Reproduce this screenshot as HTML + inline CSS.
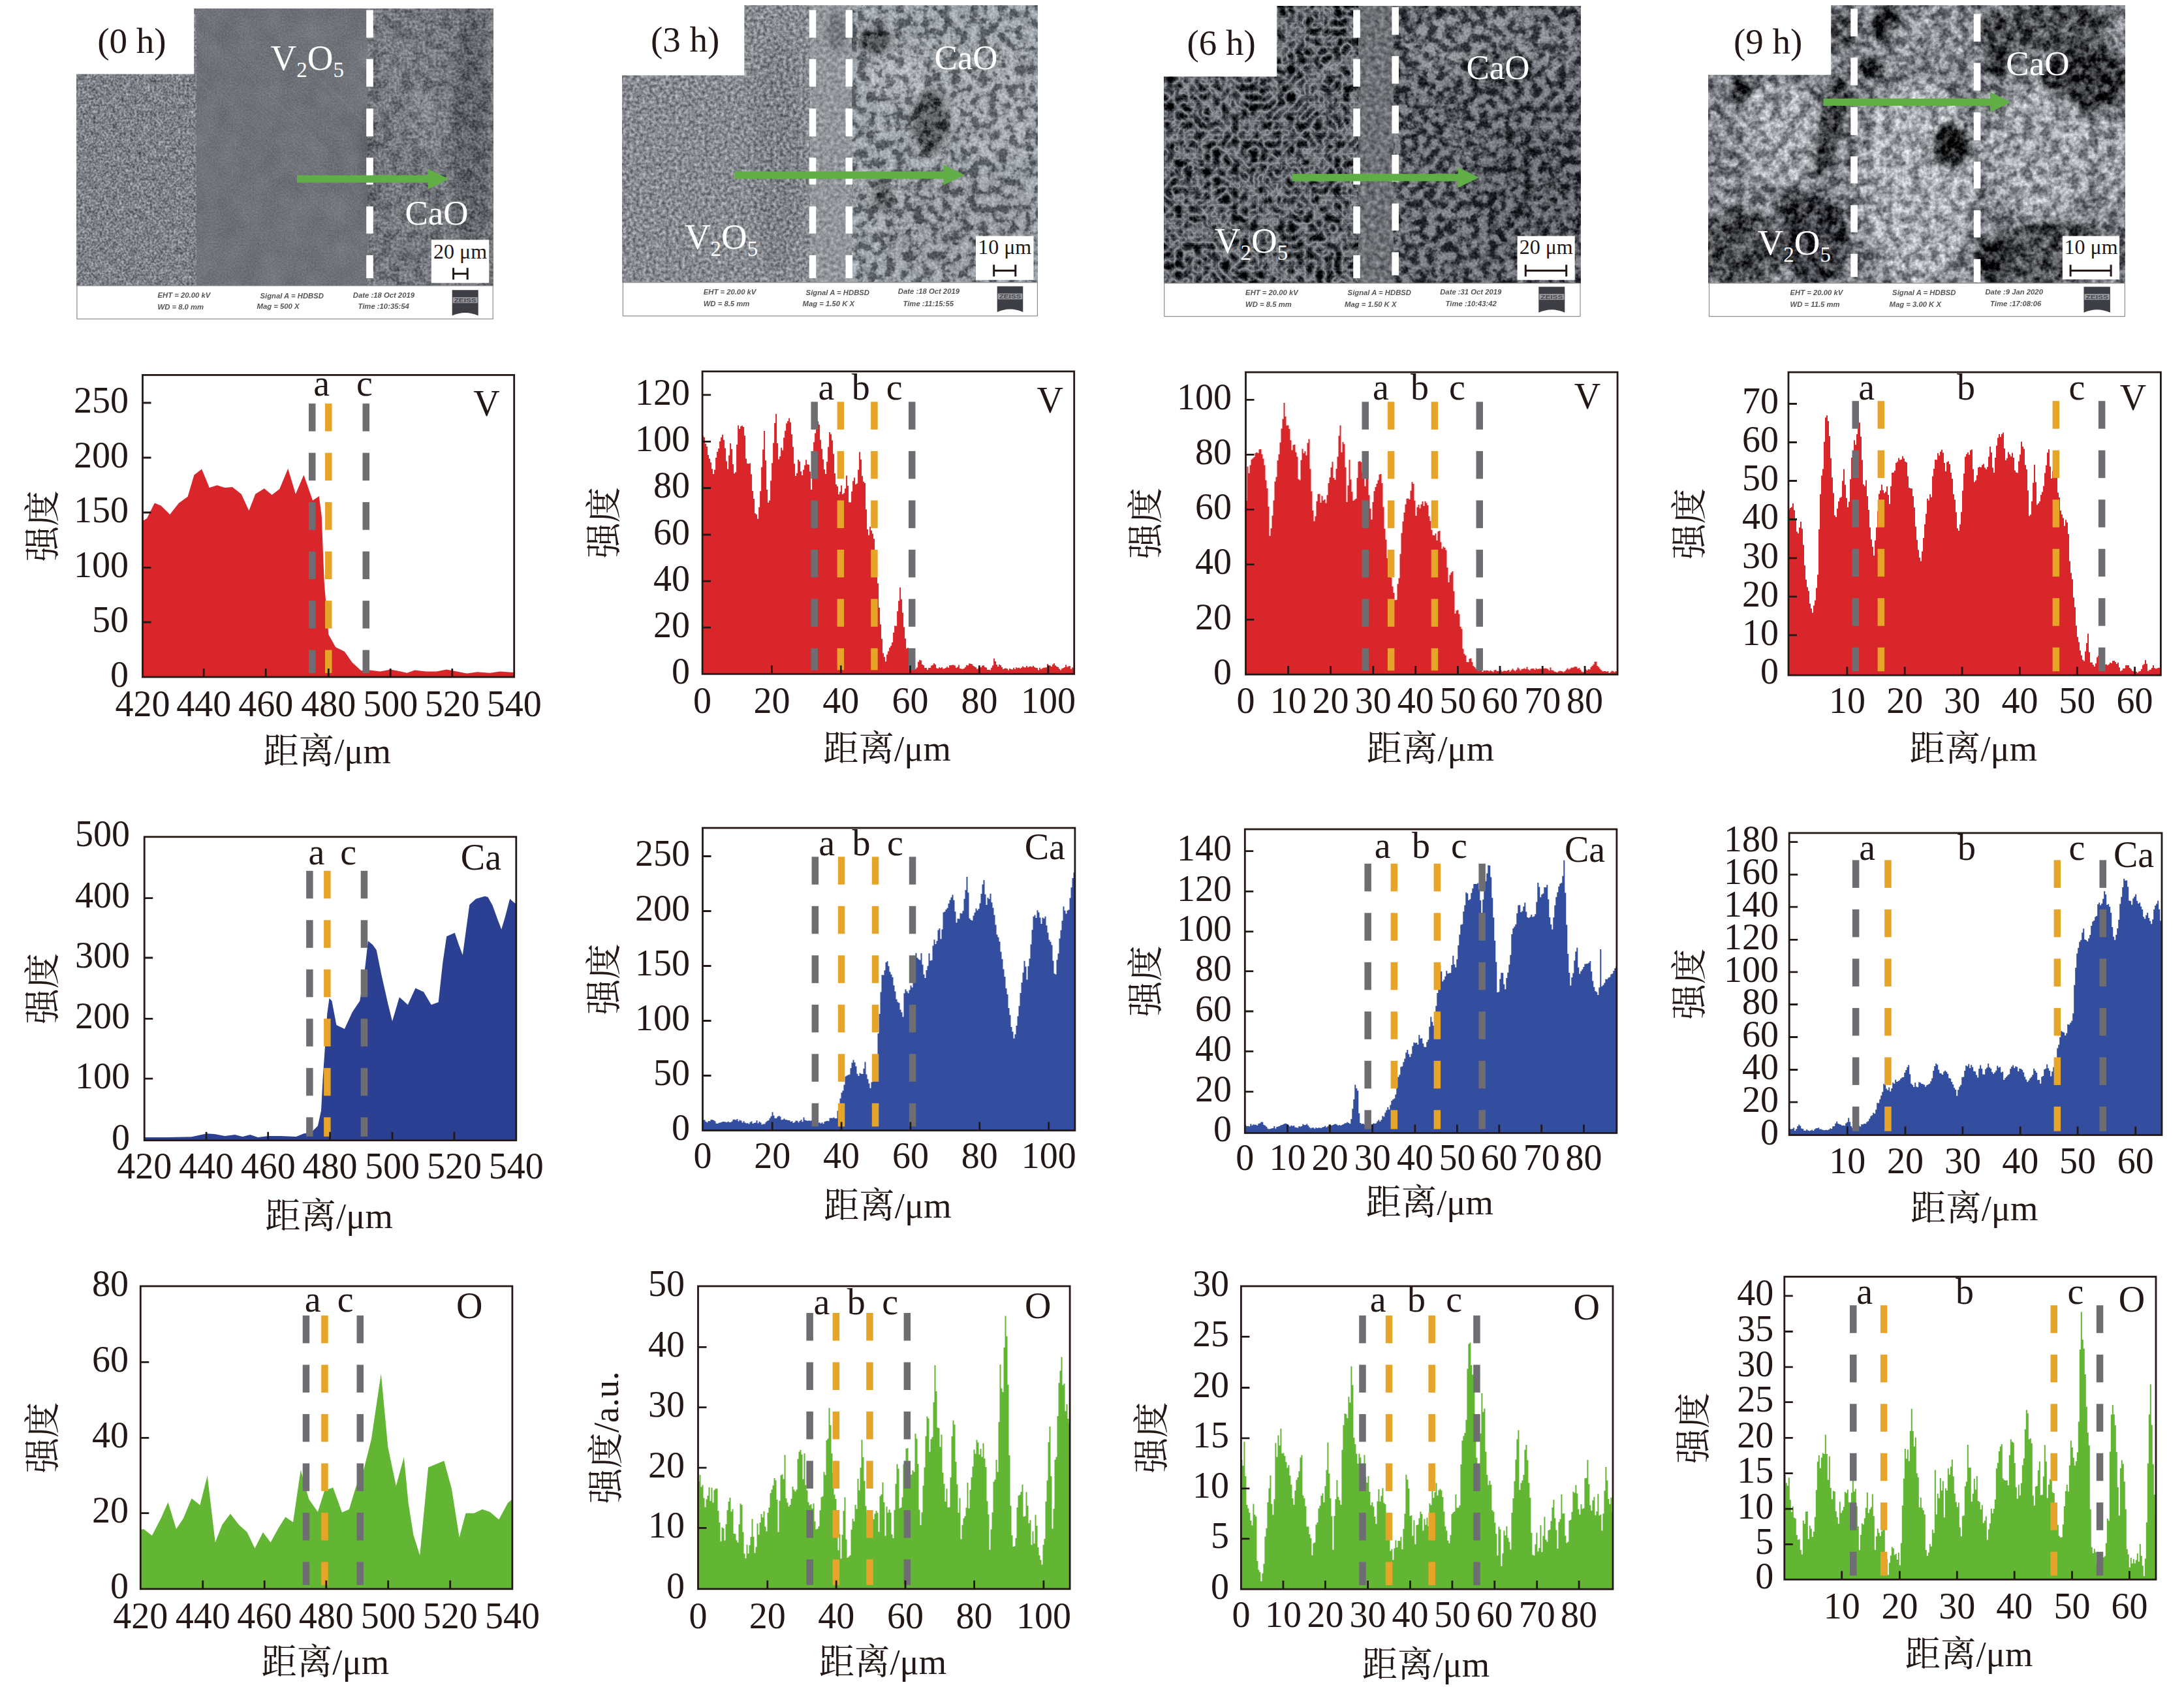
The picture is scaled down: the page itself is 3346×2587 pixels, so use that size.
<!DOCTYPE html>
<html lang="zh">
<head>
<meta charset="utf-8">
<title>V2O5-CaO diffusion couple: SEM and EDS line scans</title>
<style>
html,body{margin:0;padding:0;background:#fff;}
body{width:3346px;height:2587px;overflow:hidden;}
svg{display:block;}
svg text{font-family:"Liberation Serif","Noto Serif CJK SC",serif;fill:#231815;}
.sans{font-family:"Liberation Sans","Noto Sans CJK SC",sans-serif;}
</style>
</head>
<body>
<svg width="3346" height="2587" viewBox="0 0 3346 2587">
<rect width="3346" height="2587" fill="#fff"/>
<defs><filter id="soft" x="-5%" y="-20%" width="110%" height="140%"><feGaussianBlur stdDeviation="0.7"/></filter><filter id="b3"><feGaussianBlur stdDeviation="3"/></filter><filter id="b6"><feGaussianBlur stdDeviation="6"/></filter><filter id="b12"><feGaussianBlur stdDeviation="12"/></filter></defs>
<g id="sem1">
<defs><g id="bl1"><ellipse cx="720.8" cy="210.3" rx="27" ry="210.3" fill="#5e6267"/><ellipse cx="651.7" cy="180.2" rx="27" ry="45.1" fill="#7f8388"/><ellipse cx="699.7" cy="399.5" rx="39" ry="27" fill="#80848a"/><ellipse cx="612.6" cy="90.1" rx="60.1" ry="36" fill="#777b80"/><ellipse cx="564.6" cy="246.3" rx="15" ry="84.1" fill="#63676c"/></g><filter id="n1_0" filterUnits="userSpaceOnUse" x="109" y="5" width="200" height="441" color-interpolation-filters="sRGB"><feGaussianBlur in="SourceGraphic" stdDeviation="5" result="s"/><feTurbulence type="fractalNoise" baseFrequency="0.3" numOctaves="2" seed="10" result="n0"/><feColorMatrix in="n0" type="matrix" values="1 0 0 0 0  1 0 0 0 0  1 0 0 0 0  0 0 0 0 1" result="g0"/><feComposite in="s" in2="g0" operator="arithmetic" k1="0" k2="1" k3="0.6" k4="-0.3" result="c0"/><feTurbulence type="fractalNoise" baseFrequency="0.1" numOctaves="2" seed="21" result="n1"/><feColorMatrix in="n1" type="matrix" values="1 0 0 0 0  1 0 0 0 0  1 0 0 0 0  0 0 0 0 1" result="g1"/><feComposite in="c0" in2="g1" operator="arithmetic" k1="0" k2="1" k3="0.25" k4="-0.125" result="c1"/></filter><clipPath id="c1_0"><rect x="117" y="13" width="184" height="425"/></clipPath><filter id="n1_1" filterUnits="userSpaceOnUse" x="293" y="5" width="278" height="441" color-interpolation-filters="sRGB"><feGaussianBlur in="SourceGraphic" stdDeviation="5" result="s"/><feTurbulence type="fractalNoise" baseFrequency="0.4" numOctaves="1" seed="11" result="n0"/><feColorMatrix in="n0" type="matrix" values="1 0 0 0 0  1 0 0 0 0  1 0 0 0 0  0 0 0 0 1" result="g0"/><feComposite in="s" in2="g0" operator="arithmetic" k1="0" k2="1" k3="0.16" k4="-0.08" result="c0"/><feTurbulence type="fractalNoise" baseFrequency="0.03" numOctaves="2" seed="22" result="n1"/><feColorMatrix in="n1" type="matrix" values="1 0 0 0 0  1 0 0 0 0  1 0 0 0 0  0 0 0 0 1" result="g1"/><feComposite in="c0" in2="g1" operator="arithmetic" k1="0" k2="1" k3="0.08" k4="-0.04" result="c1"/></filter><clipPath id="c1_1"><rect x="301" y="13" width="262" height="425"/></clipPath><filter id="n1_2" filterUnits="userSpaceOnUse" x="555" y="5" width="209" height="441" color-interpolation-filters="sRGB"><feGaussianBlur in="SourceGraphic" stdDeviation="5" result="s"/><feTurbulence type="fractalNoise" baseFrequency="0.065" numOctaves="3" seed="12" result="n0"/><feColorMatrix in="n0" type="matrix" values="1 0 0 0 0  1 0 0 0 0  1 0 0 0 0  0 0 0 0 1" result="g0"/><feComponentTransfer in="g0" result="g0"><feFuncR type="table" tableValues="0 0 0 0.1 0.7 0.9 1 1 1"/><feFuncG type="table" tableValues="0 0 0 0.1 0.7 0.9 1 1 1"/><feFuncB type="table" tableValues="0 0 0 0.1 0.7 0.9 1 1 1"/></feComponentTransfer><feGaussianBlur in="g0" stdDeviation="0.7" result="g0"/><feComposite in="s" in2="g0" operator="arithmetic" k1="0" k2="1" k3="0.13" k4="-0.0746" result="c0"/><feTurbulence type="fractalNoise" baseFrequency="0.25" numOctaves="2" seed="23" result="n1"/><feColorMatrix in="n1" type="matrix" values="1 0 0 0 0  1 0 0 0 0  1 0 0 0 0  0 0 0 0 1" result="g1"/><feComposite in="c0" in2="g1" operator="arithmetic" k1="0" k2="1" k3="0.42" k4="-0.21" result="c1"/></filter><clipPath id="c1_2"><rect x="563" y="13" width="193" height="425"/></clipPath></defs>
<g clip-path="url(#c1_0)"><g filter="url(#n1_0)"><rect x="57" y="-47" width="304" height="545" fill="#7e8288"/><use href="#bl1"/></g></g>
<g clip-path="url(#c1_1)"><g filter="url(#n1_1)"><rect x="241" y="-47" width="382" height="545" fill="#6f7379"/><use href="#bl1"/></g></g>
<g clip-path="url(#c1_2)"><g filter="url(#n1_2)"><rect x="503" y="-47" width="313" height="545" fill="#72767b"/><use href="#bl1"/></g></g>
<g clip-path="url(#c1_1)" fill="none" stroke-width="1.3"><path d="M251.5 94.2l267 255.9" stroke="#565a60" opacity="0.2"/><path d="M272.3 94l289 276.9" stroke="#8a8e94" opacity="0.22"/><path d="M278.3 66.6l292.6 280.4" stroke="#565a60" opacity="0.2"/><path d="M302.8 110.1l149.2 142.9" stroke="#8a8e94" opacity="0.22"/><path d="M317.6 44.7l223.6 214.2" stroke="#565a60" opacity="0.2"/><path d="M335.9 21.3l167.1 160.1" stroke="#8a8e94" opacity="0.22"/><path d="M349.4 111.6l261.9 251" stroke="#565a60" opacity="0.2"/><path d="M364.9 99.7l153.6 147.2" stroke="#8a8e94" opacity="0.22"/><path d="M387.4 32.7l129.9 124.5" stroke="#565a60" opacity="0.2"/><path d="M407.5 40.9l166.8 159.9" stroke="#8a8e94" opacity="0.22"/><path d="M425.8 107.2l179.6 172.1" stroke="#565a60" opacity="0.2"/><path d="M442.5 73.9l246.7 236.4" stroke="#8a8e94" opacity="0.22"/><path d="M450.5 114.1l248.9 238.6" stroke="#565a60" opacity="0.2"/><path d="M476.6 109.4l181.2 173.7" stroke="#8a8e94" opacity="0.22"/><path d="M486.3 36.6l154.8 148.3" stroke="#565a60" opacity="0.2"/><path d="M499.8 50.1l233.8 224.1" stroke="#8a8e94" opacity="0.22"/><path d="M516 87.8l188 180.2" stroke="#565a60" opacity="0.2"/><path d="M536.7 101.9l212.7 203.8" stroke="#8a8e94" opacity="0.22"/><path d="M553.8 68.1l251.4 240.9" stroke="#565a60" opacity="0.2"/><path d="M567.7 117.5l133.6 128" stroke="#8a8e94" opacity="0.22"/><path d="M593 104.5l132.7 127.2" stroke="#565a60" opacity="0.2"/><path d="M610.5 56.6l229.6 220" stroke="#8a8e94" opacity="0.22"/><path d="M618.1 24.7l160.9 154.2" stroke="#565a60" opacity="0.2"/><path d="M646.5 39.7l260.2 249.3" stroke="#8a8e94" opacity="0.22"/><path d="M663.2 114.2l189.1 181.2" stroke="#565a60" opacity="0.2"/><path d="M673.3 72.5l263.6 252.6" stroke="#8a8e94" opacity="0.22"/></g>
<rect x="117.9" y="437.7" width="637.3" height="50.8" fill="#fff" stroke="#8c8c8e" stroke-width="1.2"/>
<rect x="116.3" y="12.5" width="181" height="101" fill="#fff"/>
<rect x="561.2" y="15.4" width="10.6" height="42.3" fill="#fff"/>
<rect x="561.2" y="90.4" width="10.6" height="42.3" fill="#fff"/>
<rect x="561.2" y="166.2" width="10.6" height="42.7" fill="#fff"/>
<rect x="561.2" y="241.5" width="10.6" height="41.2" fill="#fff"/>
<rect x="561.2" y="316.2" width="10.6" height="41.5" fill="#fff"/>
<rect x="561.2" y="390.8" width="10.6" height="35.4" fill="#fff"/>
<path d="M455 268.6H655.7V258.7L687.7 274.2L655.7 289.7V279.8H455Z" fill="#61ae46"/>
<text x="414.6" y="106.9" font-size="55" fill="#fff" style="fill:#fff">V<tspan font-size="33" dy="11">2</tspan><tspan dy="-11">O</tspan><tspan font-size="33" dy="11">5</tspan></text>
<text x="620.4" y="344.2" font-size="53" style="fill:#fff">CaO</text>
<rect x="660.8" y="367.3" width="88.5" height="66.2" fill="#fff"/>
<text x="705" y="396.2" font-size="32" text-anchor="middle">20 μm</text>
<path d="M694.6 410.2v18M716.2 410.2v18M693.1 419.2H717.7" stroke="#231815" stroke-width="3" fill="none"/>
<text x="149.2" y="80.8" font-size="55">(0 h)</text>
<g class="sans" font-size="11.3" font-style="italic" font-weight="bold" fill="#55565a" style="fill:#55565a" filter="url(#soft)">
<text class="sans" style="fill:#55565a" x="241.5" y="456.2">EHT = 20.00 kV</text>
<text class="sans" style="fill:#55565a" x="241.5" y="473.8">WD =  8.0 mm</text>
<text class="sans" style="fill:#55565a" x="398.5" y="456.9">Signal A = HDBSD</text>
<text class="sans" style="fill:#55565a" x="393.5" y="473.1">Mag =    500 X</text>
<text class="sans" style="fill:#55565a" x="540.8" y="455.8">Date :18 Oct 2019</text>
<text class="sans" style="fill:#55565a" x="548.5" y="473.1">Time :10:35:54</text>
</g>
<path d="M692.7 444.2H732.7V483.5Q712.7 474.5 692.7 483.5Z" fill="#3e3f45"/>
<rect x="693.7" y="455.2" width="38" height="9" fill="#9a9ba0"/>
<text class="sans" x="712.7" y="462.8" font-size="8.5" font-weight="bold" text-anchor="middle" style="fill:#46474c" textLength="34" lengthAdjust="spacingAndGlyphs">ZEISS</text>
</g>
<g id="sem2">
<defs><g id="bl2"><ellipse cx="1341.5" cy="63.1" rx="25.5" ry="19.5" fill="#45474b"/><ellipse cx="1377.5" cy="114.1" rx="45.1" ry="39" fill="#999ca1"/><ellipse cx="1425.6" cy="186.2" rx="27" ry="51.1" fill="#505256"/><ellipse cx="1350.5" cy="300.4" rx="18" ry="24" fill="#5e6064"/><ellipse cx="1521.7" cy="156.2" rx="60.1" ry="84.1" fill="#8e9297"/><ellipse cx="1470.6" cy="345.4" rx="114.1" ry="75.1" fill="#82868b"/><ellipse cx="1281.4" cy="48.1" rx="15" ry="30" fill="#74787c"/><ellipse cx="1191.3" cy="240.3" rx="36" ry="180.2" fill="#7f8388"/></g><filter id="n2_0" filterUnits="userSpaceOnUse" x="945" y="0" width="304" height="441" color-interpolation-filters="sRGB"><feGaussianBlur in="SourceGraphic" stdDeviation="5" result="s"/><feTurbulence type="fractalNoise" baseFrequency="0.2" numOctaves="2" seed="17" result="n0"/><feColorMatrix in="n0" type="matrix" values="1 0 0 0 0  1 0 0 0 0  1 0 0 0 0  0 0 0 0 1" result="g0"/><feComposite in="s" in2="g0" operator="arithmetic" k1="0" k2="1" k3="0.65" k4="-0.325" result="c0"/></filter><clipPath id="c2_0"><rect x="953" y="8" width="288" height="425"/></clipPath><filter id="n2_1" filterUnits="userSpaceOnUse" x="1233" y="0" width="80" height="441" color-interpolation-filters="sRGB"><feGaussianBlur in="SourceGraphic" stdDeviation="5" result="s"/><feTurbulence type="fractalNoise" baseFrequency="0.18" numOctaves="2" seed="18" result="n0"/><feColorMatrix in="n0" type="matrix" values="1 0 0 0 0  1 0 0 0 0  1 0 0 0 0  0 0 0 0 1" result="g0"/><feComposite in="s" in2="g0" operator="arithmetic" k1="0" k2="1" k3="0.4" k4="-0.2" result="c0"/></filter><clipPath id="c2_1"><rect x="1241" y="8" width="64" height="425"/></clipPath><filter id="n2_2" filterUnits="userSpaceOnUse" x="1297" y="0" width="301" height="441" color-interpolation-filters="sRGB"><feGaussianBlur in="SourceGraphic" stdDeviation="5" result="s"/><feTurbulence type="fractalNoise" baseFrequency="0.07" numOctaves="4" seed="19" result="n0"/><feColorMatrix in="n0" type="matrix" values="1 0 0 0 0  1 0 0 0 0  1 0 0 0 0  0 0 0 0 1" result="g0"/><feComponentTransfer in="g0" result="g0"><feFuncR type="table" tableValues="0 0 0 0.1 0.7 0.9 1 1 1"/><feFuncG type="table" tableValues="0 0 0 0.1 0.7 0.9 1 1 1"/><feFuncB type="table" tableValues="0 0 0 0.1 0.7 0.9 1 1 1"/></feComponentTransfer><feGaussianBlur in="g0" stdDeviation="0.7" result="g0"/><feComposite in="s" in2="g0" operator="arithmetic" k1="0" k2="1" k3="0.36" k4="-0.2066" result="c0"/><feTurbulence type="fractalNoise" baseFrequency="0.25" numOctaves="2" seed="30" result="n1"/><feColorMatrix in="n1" type="matrix" values="1 0 0 0 0  1 0 0 0 0  1 0 0 0 0  0 0 0 0 1" result="g1"/><feComposite in="c0" in2="g1" operator="arithmetic" k1="0" k2="1" k3="0.35" k4="-0.175" result="c1"/></filter><clipPath id="c2_2"><rect x="1305" y="8" width="285" height="425"/></clipPath></defs>
<g clip-path="url(#c2_0)"><g filter="url(#n2_0)"><rect x="893" y="-52" width="408" height="545" fill="#878b90"/><use href="#bl2"/></g></g>
<g clip-path="url(#c2_1)"><g filter="url(#n2_1)"><rect x="1181" y="-52" width="184" height="545" fill="#93969b"/><use href="#bl2"/></g></g>
<g clip-path="url(#c2_2)"><g filter="url(#n2_2)"><rect x="1245" y="-52" width="405" height="545" fill="#888d92"/><use href="#bl2"/></g></g>
<rect x="954.4" y="432.7" width="635" height="51.2" fill="#fff" stroke="#8c8c8e" stroke-width="1.2"/>
<rect x="952.8" y="7.5" width="187.5" height="107.9" fill="#fff"/>
<rect x="1239.7" y="15.4" width="10.6" height="42.3" fill="#fff"/>
<rect x="1239.7" y="90.4" width="10.6" height="42.3" fill="#fff"/>
<rect x="1239.7" y="166.2" width="10.6" height="42.7" fill="#fff"/>
<rect x="1239.7" y="241.5" width="10.6" height="41.2" fill="#fff"/>
<rect x="1239.7" y="316.2" width="10.6" height="41.5" fill="#fff"/>
<rect x="1239.7" y="390.8" width="10.6" height="35.4" fill="#fff"/>
<rect x="1295.5" y="15.4" width="10.6" height="42.3" fill="#fff"/>
<rect x="1295.5" y="90.4" width="10.6" height="42.3" fill="#fff"/>
<rect x="1295.5" y="166.2" width="10.6" height="42.7" fill="#fff"/>
<rect x="1295.5" y="241.5" width="10.6" height="41.2" fill="#fff"/>
<rect x="1295.5" y="316.2" width="10.6" height="41.5" fill="#fff"/>
<rect x="1295.5" y="390.8" width="10.6" height="35.4" fill="#fff"/>
<path d="M1125.8 262.5H1445.7V252.6L1477.7 268.1L1445.7 283.6V273.7H1125.8Z" fill="#61ae46"/>
<text x="1048.8" y="380.8" font-size="55" fill="#fff" style="fill:#fff">V<tspan font-size="33" dy="11">2</tspan><tspan dy="-11">O</tspan><tspan font-size="33" dy="11">5</tspan></text>
<text x="1431.5" y="105.8" font-size="53" style="fill:#fff">CaO</text>
<rect x="1495" y="361.5" width="88.5" height="67.3" fill="#fff"/>
<text x="1539.2" y="389.2" font-size="32" text-anchor="middle">10 μm</text>
<path d="M1522.7 405.6v18M1555.8 405.6v18M1521.2 414.6H1557.3" stroke="#231815" stroke-width="3" fill="none"/>
<text x="996.9" y="78.8" font-size="55">(3 h)</text>
<g class="sans" font-size="11.3" font-style="italic" font-weight="bold" fill="#55565a" style="fill:#55565a" filter="url(#soft)">
<text class="sans" style="fill:#55565a" x="1077.7" y="450.8">EHT = 20.00 kV</text>
<text class="sans" style="fill:#55565a" x="1077.7" y="469.2">WD =  8.5 mm</text>
<text class="sans" style="fill:#55565a" x="1234.6" y="451.5">Signal A = HDBSD</text>
<text class="sans" style="fill:#55565a" x="1229.6" y="469.2">Mag =    1.50 K X</text>
<text class="sans" style="fill:#55565a" x="1375.8" y="450">Date :18 Oct 2019</text>
<text class="sans" style="fill:#55565a" x="1383.5" y="468.5">Time :11:15:55</text>
</g>
<path d="M1527.7 438.5H1567.3V478.1Q1547.5 469.1 1527.7 478.1Z" fill="#3e3f45"/>
<rect x="1528.7" y="449.5" width="37.6" height="9" fill="#9a9ba0"/>
<text class="sans" x="1547.5" y="457.1" font-size="8.5" font-weight="bold" text-anchor="middle" style="fill:#46474c" textLength="33.6" lengthAdjust="spacingAndGlyphs">ZEISS</text>
</g>
<g id="sem3">
<defs><g id="bl3"><ellipse cx="2285.6" cy="72.1" rx="135.2" ry="57.1" fill="#676b6f"/><ellipse cx="2299.1" cy="106.6" rx="64.6" ry="28.5" fill="#4c5054"/><ellipse cx="2345.7" cy="300.4" rx="90.1" ry="105.1" fill="#4c5054"/><ellipse cx="2108.4" cy="210.3" rx="22.5" ry="210.3" fill="#6e7276"/></g><filter id="n3_0" filterUnits="userSpaceOnUse" x="1775" y="1" width="314" height="441" color-interpolation-filters="sRGB"><feGaussianBlur in="SourceGraphic" stdDeviation="5" result="s"/><feTurbulence type="turbulence" baseFrequency="0.07" numOctaves="3" seed="24" result="n0"/><feColorMatrix in="n0" type="matrix" values="-1 0 0 0 1  -1 0 0 0 1  -1 0 0 0 1  0 0 0 0 1" result="g0"/><feComposite in="s" in2="g0" operator="arithmetic" k1="0" k2="1" k3="1.05" k4="-0.7455" result="c0"/></filter><clipPath id="c3_0"><rect x="1783" y="9" width="298" height="425"/></clipPath><filter id="n3_1" filterUnits="userSpaceOnUse" x="2073" y="1" width="70" height="441" color-interpolation-filters="sRGB"><feGaussianBlur in="SourceGraphic" stdDeviation="5" result="s"/><feTurbulence type="fractalNoise" baseFrequency="0.14" numOctaves="2" seed="25" result="n0"/><feColorMatrix in="n0" type="matrix" values="1 0 0 0 0  1 0 0 0 0  1 0 0 0 0  0 0 0 0 1" result="g0"/><feComposite in="s" in2="g0" operator="arithmetic" k1="0" k2="1" k3="0.5" k4="-0.25" result="c0"/></filter><clipPath id="c3_1"><rect x="2081" y="9" width="54" height="425"/></clipPath><filter id="n3_2" filterUnits="userSpaceOnUse" x="2127" y="1" width="303" height="441" color-interpolation-filters="sRGB"><feGaussianBlur in="SourceGraphic" stdDeviation="5" result="s"/><feTurbulence type="fractalNoise" baseFrequency="0.075" numOctaves="3" seed="26" result="n0"/><feColorMatrix in="n0" type="matrix" values="1 0 0 0 0  1 0 0 0 0  1 0 0 0 0  0 0 0 0 1" result="g0"/><feComponentTransfer in="g0" result="g0"><feFuncR type="table" tableValues="0 0 0 0.15 0.6 0.95 1 1 1"/><feFuncG type="table" tableValues="0 0 0 0.15 0.6 0.95 1 1 1"/><feFuncB type="table" tableValues="0 0 0 0.15 0.6 0.95 1 1 1"/></feComponentTransfer><feGaussianBlur in="g0" stdDeviation="0.7" result="g0"/><feComposite in="s" in2="g0" operator="arithmetic" k1="0" k2="1" k3="0.42" k4="-0.2339" result="c0"/><feTurbulence type="fractalNoise" baseFrequency="0.3" numOctaves="2" seed="37" result="n1"/><feColorMatrix in="n1" type="matrix" values="1 0 0 0 0  1 0 0 0 0  1 0 0 0 0  0 0 0 0 1" result="g1"/><feComposite in="c0" in2="g1" operator="arithmetic" k1="0" k2="1" k3="0.3" k4="-0.15" result="c1"/></filter><clipPath id="c3_2"><rect x="2135" y="9" width="287" height="425"/></clipPath></defs>
<g clip-path="url(#c3_0)"><g filter="url(#n3_0)"><rect x="1723" y="-51" width="418" height="545" fill="#575b60"/><use href="#bl3"/></g></g>
<g clip-path="url(#c3_1)"><g filter="url(#n3_1)"><rect x="2021" y="-51" width="174" height="545" fill="#6c7074"/><use href="#bl3"/></g></g>
<g clip-path="url(#c3_2)"><g filter="url(#n3_2)"><rect x="2075" y="-51" width="407" height="545" fill="#565a5f"/><use href="#bl3"/></g></g>
<rect x="1783.7" y="433.8" width="637.3" height="50.8" fill="#fff" stroke="#8c8c8e" stroke-width="1.2"/>
<rect x="1782.1" y="8.6" width="174.1" height="108.7" fill="#fff"/>
<rect x="2073.2" y="15.4" width="10.6" height="42.3" fill="#fff"/>
<rect x="2073.2" y="90.4" width="10.6" height="42.3" fill="#fff"/>
<rect x="2073.2" y="166.2" width="10.6" height="42.7" fill="#fff"/>
<rect x="2073.2" y="241.5" width="10.6" height="41.2" fill="#fff"/>
<rect x="2073.2" y="316.2" width="10.6" height="41.5" fill="#fff"/>
<rect x="2073.2" y="390.8" width="10.6" height="35.4" fill="#fff"/>
<rect x="2132.4" y="10.9" width="10.6" height="42.3" fill="#fff"/>
<rect x="2132.4" y="85.9" width="10.6" height="42.3" fill="#fff"/>
<rect x="2132.4" y="161.7" width="10.6" height="42.7" fill="#fff"/>
<rect x="2132.4" y="237" width="10.6" height="41.2" fill="#fff"/>
<rect x="2132.4" y="311.7" width="10.6" height="41.5" fill="#fff"/>
<rect x="2132.4" y="386.3" width="10.6" height="35.4" fill="#fff"/>
<path d="M1979.2 266.3H2233.8V256.4L2265.8 271.9L2233.8 287.4V277.5H1979.2Z" fill="#61ae46"/>
<text x="1860.8" y="386.5" font-size="55" fill="#fff" style="fill:#fff">V<tspan font-size="33" dy="11">2</tspan><tspan dy="-11">O</tspan><tspan font-size="33" dy="11">5</tspan></text>
<text x="2246.5" y="121.2" font-size="53" style="fill:#fff">CaO</text>
<rect x="2324.6" y="361.5" width="88.1" height="67.3" fill="#fff"/>
<text x="2368.7" y="389.2" font-size="32" text-anchor="middle">20 μm</text>
<path d="M2337.3 405.6v18M2399.7 405.6v18M2335.8 414.6H2401.2" stroke="#231815" stroke-width="3" fill="none"/>
<text x="1818.5" y="83.8" font-size="55">(6 h)</text>
<g class="sans" font-size="11.3" font-style="italic" font-weight="bold" fill="#55565a" style="fill:#55565a" filter="url(#soft)">
<text class="sans" style="fill:#55565a" x="1908.1" y="451.5">EHT = 20.00 kV</text>
<text class="sans" style="fill:#55565a" x="1908.1" y="470">WD =  8.5 mm</text>
<text class="sans" style="fill:#55565a" x="2064.6" y="452.3">Signal A = HDBSD</text>
<text class="sans" style="fill:#55565a" x="2060" y="470">Mag =    1.50 K X</text>
<text class="sans" style="fill:#55565a" x="2206.2" y="450.8">Date :31 Oct 2019</text>
<text class="sans" style="fill:#55565a" x="2214.6" y="469.2">Time :10:43:42</text>
</g>
<path d="M2357.3 439.2H2397.3V478.8Q2377.3 469.8 2357.3 478.8Z" fill="#3e3f45"/>
<rect x="2358.3" y="450.2" width="38" height="9" fill="#9a9ba0"/>
<text class="sans" x="2377.3" y="457.8" font-size="8.5" font-weight="bold" text-anchor="middle" style="fill:#46474c" textLength="34" lengthAdjust="spacingAndGlyphs">ZEISS</text>
</g>
<g id="sem4">
<defs><g id="bl4"><ellipse cx="2667.1" cy="136.7" rx="13.5" ry="19.5" fill="#24262a"/><ellipse cx="2706.1" cy="154.7" rx="19.5" ry="12" fill="#2a2c30"/><ellipse cx="2748.8" cy="317.5" rx="21" ry="22.5" fill="#2e3034"/><ellipse cx="2655.1" cy="342.4" rx="39" ry="21" fill="#54565a" transform="rotate(-20 2655.1 342.4)"/><ellipse cx="2730.1" cy="204.2" rx="64.6" ry="79.6" fill="#9a9da2"/><ellipse cx="2646" cy="240.3" rx="33" ry="75.1" fill="#808388"/><ellipse cx="2805.2" cy="192.2" rx="16.5" ry="81.1" fill="#34363a" transform="rotate(15 2805.2 192.2)"/><ellipse cx="2670.1" cy="381.5" rx="64.6" ry="54.1" fill="#45474b"/><ellipse cx="2781.2" cy="366.4" rx="51.1" ry="66.1" fill="#33353a"/><ellipse cx="2820.3" cy="45.1" rx="18" ry="33" fill="#4e5054"/><ellipse cx="2892.3" cy="39" rx="24" ry="27" fill="#17191c"/><ellipse cx="2865.3" cy="105.1" rx="19.5" ry="16.5" fill="#25272b"/><ellipse cx="2937.4" cy="279.3" rx="85.6" ry="156.2" fill="#a2a5aa"/><ellipse cx="2955.4" cy="66.1" rx="63.1" ry="54.1" fill="#85888d"/><ellipse cx="2988.5" cy="222.3" rx="27" ry="30" fill="#131517"/><ellipse cx="3144.7" cy="42.1" rx="114.1" ry="34.5" fill="#46484c"/><ellipse cx="3195.7" cy="120.1" rx="64.6" ry="49.6" fill="#2d2f33"/><ellipse cx="3126.6" cy="237.3" rx="85.6" ry="100.6" fill="#999ca1"/><ellipse cx="3237.8" cy="240.3" rx="24" ry="69.1" fill="#94979c"/><ellipse cx="3150.7" cy="387.5" rx="108.1" ry="46.6" fill="#494b4f"/><ellipse cx="3054.5" cy="399.5" rx="28.5" ry="34.5" fill="#222428"/><ellipse cx="3240.8" cy="45.1" rx="15" ry="15" fill="#909398"/><ellipse cx="3060.5" cy="90.1" rx="19.5" ry="31.5" fill="#34363a"/></g><filter id="n4_0" filterUnits="userSpaceOnUse" x="2609" y="0" width="655" height="442" color-interpolation-filters="sRGB"><feGaussianBlur in="SourceGraphic" stdDeviation="5" result="s"/><feTurbulence type="fractalNoise" baseFrequency="0.07" numOctaves="4" seed="31" result="n0"/><feColorMatrix in="n0" type="matrix" values="1 0 0 0 0  1 0 0 0 0  1 0 0 0 0  0 0 0 0 1" result="g0"/><feComponentTransfer in="g0" result="g0"><feFuncR type="table" tableValues="0 0 0 0.1 0.55 0.85 1 1 1"/><feFuncG type="table" tableValues="0 0 0 0.1 0.55 0.85 1 1 1"/><feFuncB type="table" tableValues="0 0 0 0.1 0.55 0.85 1 1 1"/></feComponentTransfer><feGaussianBlur in="g0" stdDeviation="0.8" result="g0"/><feComposite in="s" in2="g0" operator="arithmetic" k1="0" k2="1" k3="0.4" k4="-0.2012" result="c0"/><feTurbulence type="fractalNoise" baseFrequency="0.2" numOctaves="3" seed="42" result="n1"/><feColorMatrix in="n1" type="matrix" values="1 0 0 0 0  1 0 0 0 0  1 0 0 0 0  0 0 0 0 1" result="g1"/><feComposite in="c0" in2="g1" operator="arithmetic" k1="0" k2="1" k3="0.5" k4="-0.25" result="c1"/></filter><clipPath id="c4_0"><rect x="2617" y="8" width="639" height="426"/></clipPath></defs>
<g clip-path="url(#c4_0)"><g filter="url(#n4_0)"><rect x="2557" y="-52" width="759" height="546" fill="#787b80"/><use href="#bl4"/></g></g>
<rect x="2618.5" y="433.8" width="636.9" height="50.8" fill="#fff" stroke="#8c8c8e" stroke-width="1.2"/>
<rect x="2616.9" y="7.5" width="188.3" height="107.2" fill="#fff"/>
<rect x="2835.3" y="13.4" width="10.6" height="42.3" fill="#fff"/>
<rect x="2835.3" y="88.4" width="10.6" height="42.3" fill="#fff"/>
<rect x="2835.3" y="164.2" width="10.6" height="42.7" fill="#fff"/>
<rect x="2835.3" y="239.5" width="10.6" height="41.2" fill="#fff"/>
<rect x="2835.3" y="314.2" width="10.6" height="41.5" fill="#fff"/>
<rect x="2835.3" y="388.8" width="10.6" height="35.4" fill="#fff"/>
<rect x="3023.8" y="21.4" width="10.6" height="42.3" fill="#fff"/>
<rect x="3023.8" y="96.4" width="10.6" height="42.3" fill="#fff"/>
<rect x="3023.8" y="172.2" width="10.6" height="42.7" fill="#fff"/>
<rect x="3023.8" y="247.5" width="10.6" height="41.2" fill="#fff"/>
<rect x="3023.8" y="322.2" width="10.6" height="41.5" fill="#fff"/>
<rect x="3023.8" y="396.8" width="10.6" height="35.4" fill="#fff"/>
<path d="M2793.7 150.9H3049V141L3081 156.5L3049 172V162.1H2793.7Z" fill="#61ae46"/>
<text x="2692.5" y="390.4" font-size="55" fill="#fff" style="fill:#fff">V<tspan font-size="33" dy="11">2</tspan><tspan dy="-11">O</tspan><tspan font-size="33" dy="11">5</tspan></text>
<text x="3073.3" y="115.4" font-size="53" style="fill:#fff">CaO</text>
<rect x="3159.8" y="361.5" width="87.3" height="66.5" fill="#fff"/>
<text x="3203.5" y="389.2" font-size="32" text-anchor="middle">10 μm</text>
<path d="M3172.1 405.6v18M3234.1 405.6v18M3170.6 414.6H3235.6" stroke="#231815" stroke-width="3" fill="none"/>
<text x="2656" y="81.9" font-size="55">(9 h)</text>
<g class="sans" font-size="11.3" font-style="italic" font-weight="bold" fill="#55565a" style="fill:#55565a" filter="url(#soft)">
<text class="sans" style="fill:#55565a" x="2742.5" y="451.5">EHT = 20.00 kV</text>
<text class="sans" style="fill:#55565a" x="2742.5" y="470">WD = 11.5 mm</text>
<text class="sans" style="fill:#55565a" x="2899.1" y="452.3">Signal A = HDBSD</text>
<text class="sans" style="fill:#55565a" x="2894.5" y="470">Mag =    3.00 K X</text>
<text class="sans" style="fill:#55565a" x="3041.4" y="450.8">Date :9 Jan 2020</text>
<text class="sans" style="fill:#55565a" x="3049.1" y="469.2">Time :17:08:06</text>
</g>
<path d="M3192.5 439.2H3232.9V478.8Q3212.7 469.8 3192.5 478.8Z" fill="#3e3f45"/>
<rect x="3193.5" y="450.2" width="38.4" height="9" fill="#9a9ba0"/>
<text class="sans" x="3212.7" y="457.8" font-size="8.5" font-weight="bold" text-anchor="middle" style="fill:#46474c" textLength="34.4" lengthAdjust="spacingAndGlyphs">ZEISS</text>
</g>
<g id="V0">
<path d="M218.5 1037 L218.5 797.9 L225.1 794 L236.8 770.5 L246.6 774.4 L260.3 788.1 L274 770.5 L287.6 760.7 L297.4 727.5 L309.1 718.5 L320.8 747.1 L332.6 743.2 L344.3 747.1 L356 745.9 L369.7 756.8 L381.4 782.2 L391.2 756.8 L404.8 748.2 L416.6 758 L428.3 749 L441.2 717.8 L452.9 756.8 L465.4 727.5 L479.1 766.6 L488.8 760 L492.7 790 L496.7 891.6 L503.3 971.7 L514.2 991.3 L527.9 997.9 L539.6 1014.7 L553.3 1027.2 L567 1026.4 L582.6 1028.4 L598.2 1025.6 L613.9 1028.4 L623.6 1030.7 L635.3 1026.4 L652.9 1028.4 L668.6 1028.4 L684.2 1025.6 L699.8 1028.4 L715.4 1031.5 L731.1 1029.2 L750.6 1030.7 L766.2 1028.4 L787.7 1029.9 L787.7 1037 Z" fill="#d9262a"/>
<rect x="473" y="618.1" width="10.5" height="42.5" fill="#6e6d72"/>
<rect x="473" y="693.6" width="10.5" height="42.5" fill="#6e6d72"/>
<rect x="473" y="769.1" width="10.5" height="42.5" fill="#6e6d72"/>
<rect x="473" y="844.6" width="10.5" height="42.5" fill="#6e6d72"/>
<rect x="473" y="920.1" width="10.5" height="42.5" fill="#6e6d72"/>
<rect x="473" y="995.6" width="10.5" height="35.3" fill="#6e6d72"/>
<rect x="498" y="618.1" width="10.5" height="42.5" fill="#e6a528"/>
<rect x="498" y="693.6" width="10.5" height="42.5" fill="#e6a528"/>
<rect x="498" y="769.1" width="10.5" height="42.5" fill="#e6a528"/>
<rect x="498" y="844.6" width="10.5" height="42.5" fill="#e6a528"/>
<rect x="498" y="920.1" width="10.5" height="42.5" fill="#e6a528"/>
<rect x="498" y="995.6" width="10.5" height="35.3" fill="#e6a528"/>
<rect x="555.5" y="618.1" width="10.5" height="42.5" fill="#6e6d72"/>
<rect x="555.5" y="693.6" width="10.5" height="42.5" fill="#6e6d72"/>
<rect x="555.5" y="769.1" width="10.5" height="42.5" fill="#6e6d72"/>
<rect x="555.5" y="844.6" width="10.5" height="42.5" fill="#6e6d72"/>
<rect x="555.5" y="920.1" width="10.5" height="42.5" fill="#6e6d72"/>
<rect x="555.5" y="995.6" width="10.5" height="35.3" fill="#6e6d72"/>
<rect x="218.5" y="574.4" width="569.2" height="462.6" fill="none" stroke="#231815" stroke-width="2.8"/>
<path d="M218.5 953h13 M218.5 869.4h13 M218.5 785h13 M218.5 701h13 M218.5 617h13 M312.2 1037v-13 M407.2 1037v-13 M503.3 1037v-13 M598.2 1037v-13 M692.8 1037v-13" stroke="#231815" stroke-width="2.8" fill="none"/>
<g font-size="56" text-anchor="end">
<text x="196.9" y="1051.6">0</text>
<text x="196.9" y="967.6">50</text>
<text x="196.9" y="884">100</text>
<text x="196.9" y="799.6">150</text>
<text x="196.9" y="715.6">200</text>
<text x="196.9" y="631.6">250</text>
</g>
<g font-size="56" text-anchor="middle">
<text x="218.5" y="1096.7">420</text>
<text x="312.2" y="1096.7">440</text>
<text x="407.2" y="1096.7">460</text>
<text x="503.3" y="1096.7">480</text>
<text x="598.2" y="1096.7">500</text>
<text x="692.8" y="1096.7">520</text>
<text x="787.7" y="1096.7">540</text>
</g>
<text x="501.1" y="1169" font-size="54.5" text-anchor="middle">距离/μm</text>
<text transform="translate(83.7 805.7) rotate(-90)" font-size="54.5" text-anchor="middle">强度</text>
<text x="492.7" y="606.4" font-size="56" text-anchor="middle">a</text>
<text x="558.4" y="606.4" font-size="56" text-anchor="middle">c</text>
<text x="745.5" y="636.9" font-size="56" text-anchor="middle">V</text>
</g>
<g id="V3">
<path d="M1076.1 1032.3 V667.4 H1078.1 V669.7 H1080.1 V679.6 H1082.1 V683.9 H1084.1 V697 H1086.1 V702.4 H1088.1 V708.2 H1090.1 V718.3 H1092.1 V725.9 H1094.1 V719.6 H1096.1 V700.9 H1098.1 V691.9 H1100.1 V686.9 H1102.1 V676.1 H1104.1 V670.1 H1106.1 V665.8 H1108.1 V673.7 H1110.1 V686.5 H1112.1 V706.5 H1114.1 V718.6 H1116.1 V697.6 H1118.1 V678.9 H1120.1 V687.8 H1122.1 V711 H1124.1 V725.3 H1126.1 V723.3 H1128.1 V681.1 H1130.1 V651.4 H1132.1 V657 H1134.1 V652.9 H1136.1 V652.1 H1138.1 V653.9 H1140.1 V667.2 H1142.1 V702.4 H1144.1 V710.1 H1146.1 V710.3 H1148.1 V709.4 H1150.1 V726.2 H1152.1 V752 H1154.1 V763.9 H1156.1 V786.2 H1158.1 V788 H1160.1 V794.8 H1162.1 V776.9 H1164.1 V752.3 H1166.1 V715.5 H1168.1 V688.5 H1170.1 V660 H1172.1 V705.3 H1174.1 V750.1 H1176.1 V770.1 H1178.1 V766.6 H1180.1 V736.3 H1182.1 V709.2 H1184.1 V678.5 H1186.1 V647.9 H1188.1 V633.9 H1190.1 V678.8 H1192.1 V703.4 H1194.1 V699.1 H1196.1 V685.7 H1198.1 V689.7 H1200.1 V670.3 H1202.1 V659.8 H1204.1 V648.6 H1206.1 V645 H1208.1 V640.6 H1210.1 V647.1 H1212.1 V665.3 H1214.1 V684.6 H1216.1 V710.2 H1218.1 V729 H1220.1 V724.8 H1222.1 V703.9 H1224.1 V706.7 H1226.1 V722 H1228.1 V728 H1230.1 V719.4 H1232.1 V712.6 H1234.1 V704.2 H1236.1 V711.2 H1238.1 V711.8 H1240.1 V722.2 H1242.1 V749.9 H1244.1 V709.6 H1246.1 V677.2 H1248.1 V663.6 H1250.1 V654.3 H1252.1 V645.2 H1254.1 V650.6 H1256.1 V673.8 H1258.1 V687.4 H1260.1 V703.4 H1262.1 V718.9 H1264.1 V725.9 H1266.1 V707.3 H1268.1 V684.4 H1270.1 V661.9 H1272.1 V665.3 H1274.1 V674.4 H1276.1 V695.2 H1278.1 V725.1 H1280.1 V742.1 H1282.1 V745.1 H1284.1 V757.2 H1286.1 V753.3 H1288.1 V743.4 H1290.1 V756.9 H1292.1 V755.3 H1294.1 V748.2 H1296.1 V728.4 H1298.1 V744 H1300.1 V769.3 H1302.1 V769.4 H1304.1 V752.8 H1306.1 V736.7 H1308.1 V731.4 H1310.1 V742.1 H1312.1 V740.6 H1314.1 V719.4 H1316.1 V692.3 H1318.1 V703.8 H1320.1 V729.2 H1322.1 V737.7 H1324.1 V739.8 H1326.1 V780.3 H1328.1 V810.8 H1330.1 V819.7 H1332.1 V806.7 H1334.1 V812.4 H1336.1 V817.5 H1338.1 V825.2 H1340.1 V857 H1342.1 V868.8 H1344.1 V893.4 H1346.1 V930.7 H1348.1 V956.2 H1350.1 V978.5 H1352.1 V1000.5 H1354.1 V1006.2 H1356.1 V1013.2 H1358.1 V1002.5 H1360.1 V997.5 H1362.1 V992 H1364.1 V989.2 H1366.1 V984 H1368.1 V968.9 H1370.1 V958.6 H1372.1 V958.7 H1374.1 V936.3 H1376.1 V920.3 H1378.1 V899.7 H1380.1 V917.7 H1382.1 V938.5 H1384.1 V960.4 H1386.1 V978.1 H1388.1 V993.3 H1390.1 V992.2 H1392.1 V1006.2 H1394.1 V1009.3 H1396.1 V1020.7 H1398.1 V1023.6 H1400.1 V1025 H1402.1 V1024.4 H1404.1 V1022.2 H1406.1 V1013.8 H1408.1 V1010.7 H1410.1 V1011.6 H1412.1 V1017.8 H1414.1 V1018.9 H1416.1 V1023.1 H1418.1 V1023 H1420.1 V1025.9 H1422.1 V1022.9 H1424.1 V1023.1 H1426.1 V1019.4 H1428.1 V1018.4 H1430.1 V1016.1 H1432.1 V1017.7 H1434.1 V1023.3 H1436.1 V1023.9 H1438.1 V1022.1 H1440.1 V1023.3 H1442.1 V1022 H1444.1 V1024.2 H1446.1 V1023.9 H1448.1 V1023.1 H1450.1 V1021.3 H1452.1 V1022.8 H1454.1 V1019 H1456.1 V1018.9 H1458.1 V1018.6 H1460.1 V1018.4 H1462.1 V1019.5 H1464.1 V1022.9 H1466.1 V1021.6 H1468.1 V1018.4 H1470.1 V1024.1 H1472.1 V1024.5 H1474.1 V1024.7 H1476.1 V1023.7 H1478.1 V1021.8 H1480.1 V1018.7 H1482.1 V1019.3 H1484.1 V1016.2 H1486.1 V1016.8 H1488.1 V1017.2 H1490.1 V1019.8 H1492.1 V1021.1 H1494.1 V1022.3 H1496.1 V1024.7 H1498.1 V1023.4 H1500.1 V1023 H1502.1 V1022.1 H1504.1 V1019.5 H1506.1 V1019.3 H1508.1 V1021.7 H1510.1 V1022.5 H1512.1 V1026.1 H1514.1 V1025.7 H1516.1 V1026.2 H1518.1 V1022.8 H1520.1 V1019.2 H1522.1 V1008.6 H1524.1 V1012.9 H1526.1 V1018.1 H1528.1 V1021 H1530.1 V1017.7 H1532.1 V1019 H1534.1 V1022 H1536.1 V1025.1 H1538.1 V1023.8 H1540.1 V1023.6 H1542.1 V1024.3 H1544.1 V1026.5 H1546.1 V1023.7 H1548.1 V1024.9 H1550.1 V1025.2 H1552.1 V1022.7 H1554.1 V1024.9 H1556.1 V1022.2 H1558.1 V1023.2 H1560.1 V1022.8 H1562.1 V1023.9 H1564.1 V1022.5 H1566.1 V1020.5 H1568.1 V1022.2 H1570.1 V1022.2 H1572.1 V1020.1 H1574.1 V1022.3 H1576.1 V1020.9 H1578.1 V1020.7 H1580.1 V1021.5 H1582.1 V1019.8 H1584.1 V1021.7 H1586.1 V1023.1 H1588.1 V1023.2 H1590.1 V1026.6 H1592.1 V1022.7 H1594.1 V1025.1 H1596.1 V1023.6 H1598.1 V1022.7 H1600.1 V1022.4 H1602.1 V1022.3 H1604.1 V1017 H1606.1 V1019.2 H1608.1 V1019.5 H1610.1 V1020.9 H1612.1 V1017.8 H1614.1 V1016 H1616.1 V1019.3 H1618.1 V1021.1 H1620.1 V1021.7 H1622.1 V1024.6 H1624.1 V1026.4 H1626.1 V1024 H1628.1 V1023.2 H1630.1 V1021.9 H1632.1 V1018.2 H1634.1 V1021.5 H1636.1 V1020.4 H1638.1 V1019.9 H1640.1 V1024.7 H1642.1 V1022.3 H1644.1 V1023.8 H1645.8 V1032.3 Z" fill="#d9262a"/>
<rect x="1242.4" y="615.4" width="10.5" height="42.5" fill="#6e6d72"/>
<rect x="1242.4" y="690.9" width="10.5" height="42.5" fill="#6e6d72"/>
<rect x="1242.4" y="766.4" width="10.5" height="42.5" fill="#6e6d72"/>
<rect x="1242.4" y="841.9" width="10.5" height="42.5" fill="#6e6d72"/>
<rect x="1242.4" y="917.4" width="10.5" height="42.5" fill="#6e6d72"/>
<rect x="1242.4" y="992.9" width="10.5" height="33.4" fill="#6e6d72"/>
<rect x="1282.6" y="615.4" width="10.5" height="42.5" fill="#e6a528"/>
<rect x="1282.6" y="690.9" width="10.5" height="42.5" fill="#e6a528"/>
<rect x="1282.6" y="766.4" width="10.5" height="42.5" fill="#e6a528"/>
<rect x="1282.6" y="841.9" width="10.5" height="42.5" fill="#e6a528"/>
<rect x="1282.6" y="917.4" width="10.5" height="42.5" fill="#e6a528"/>
<rect x="1282.6" y="992.9" width="10.5" height="33.4" fill="#e6a528"/>
<rect x="1334.2" y="615.4" width="10.5" height="42.5" fill="#e6a528"/>
<rect x="1334.2" y="690.9" width="10.5" height="42.5" fill="#e6a528"/>
<rect x="1334.2" y="766.4" width="10.5" height="42.5" fill="#e6a528"/>
<rect x="1334.2" y="841.9" width="10.5" height="42.5" fill="#e6a528"/>
<rect x="1334.2" y="917.4" width="10.5" height="42.5" fill="#e6a528"/>
<rect x="1334.2" y="992.9" width="10.5" height="33.4" fill="#e6a528"/>
<rect x="1392" y="615.4" width="10.5" height="42.5" fill="#6e6d72"/>
<rect x="1392" y="690.9" width="10.5" height="42.5" fill="#6e6d72"/>
<rect x="1392" y="766.4" width="10.5" height="42.5" fill="#6e6d72"/>
<rect x="1392" y="841.9" width="10.5" height="42.5" fill="#6e6d72"/>
<rect x="1392" y="917.4" width="10.5" height="42.5" fill="#6e6d72"/>
<rect x="1392" y="992.9" width="10.5" height="33.4" fill="#6e6d72"/>
<rect x="1076.1" y="568.9" width="569.6" height="463.4" fill="none" stroke="#231815" stroke-width="2.8"/>
<path d="M1076.1 961.2h13 M1076.1 890.1h13 M1076.1 819h13 M1076.1 747.5h13 M1076.1 676.4h13 M1076.1 604.9h13 M1182.4 1032.3v-13 M1288.3 1032.3v-13 M1394.5 1032.3v-13 M1500.4 1032.3v-13 M1605.9 1032.3v-13" stroke="#231815" stroke-width="2.8" fill="none"/>
<g font-size="56" text-anchor="end">
<text x="1056.9" y="1046.9">0</text>
<text x="1056.9" y="975.8">20</text>
<text x="1056.9" y="904.7">40</text>
<text x="1056.9" y="833.6">60</text>
<text x="1056.9" y="762.1">80</text>
<text x="1056.9" y="691">100</text>
<text x="1056.9" y="619.5">120</text>
</g>
<g font-size="56" text-anchor="middle">
<text x="1076.1" y="1091.7">0</text>
<text x="1182.4" y="1091.7">20</text>
<text x="1288.3" y="1091.7">40</text>
<text x="1394.5" y="1091.7">60</text>
<text x="1500.4" y="1091.7">80</text>
<text x="1605.9" y="1091.7">100</text>
</g>
<text x="1358.9" y="1165.1" font-size="54.5" text-anchor="middle">距离/μm</text>
<text transform="translate(943.7 800.6) rotate(-90)" font-size="54.5" text-anchor="middle">强度</text>
<text x="1266" y="612.3" font-size="56" text-anchor="middle">a</text>
<text x="1318.8" y="612.3" font-size="56" text-anchor="middle">b</text>
<text x="1370.3" y="612.3" font-size="56" text-anchor="middle">c</text>
<text x="1608.7" y="631.8" font-size="56" text-anchor="middle">V</text>
</g>
<g id="V6">
<path d="M1908.5 1033.1 V767.1 H1910.5 V714.4 H1912.5 V724.7 H1914.5 V712.5 H1916.5 V703.7 H1918.5 V701.9 H1920.5 V699.9 H1922.5 V694 H1924.5 V692.7 H1926.5 V694 H1928.5 V688.3 H1930.5 V688 H1932.5 V695.8 H1934.5 V702.5 H1936.5 V712.6 H1938.5 V735.4 H1940.5 V748.1 H1942.5 V776.1 H1944.5 V820.7 H1946.5 V809.2 H1948.5 V789.7 H1950.5 V766.5 H1952.5 V737.6 H1954.5 V730.4 H1956.5 V705.3 H1958.5 V695.8 H1960.5 V677.8 H1962.5 V656.5 H1964.5 V641.7 H1966.5 V616.9 H1968.5 V638 H1970.5 V651.7 H1972.5 V651.3 H1974.5 V657 H1976.5 V674.2 H1978.5 V689.5 H1980.5 V681.5 H1982.5 V681.1 H1984.5 V692.8 H1986.5 V699.6 H1988.5 V733.8 H1990.5 V735.6 H1992.5 V704.8 H1994.5 V687.5 H1996.5 V694.3 H1998.5 V691.2 H2000.5 V697.4 H2002.5 V678.5 H2004.5 V672.6 H2006.5 V718.2 H2008.5 V752.6 H2010.5 V782 H2012.5 V798.2 H2014.5 V790.8 H2016.5 V767.7 H2018.5 V756.8 H2020.5 V756.6 H2022.5 V770 H2024.5 V759.6 H2026.5 V766.7 H2028.5 V764.9 H2030.5 V770.6 H2032.5 V758.3 H2034.5 V739.9 H2036.5 V731.3 H2038.5 V715.9 H2040.5 V707.2 H2042.5 V732 H2044.5 V734.9 H2046.5 V718 H2048.5 V699.6 H2050.5 V667.4 H2052.5 V651.5 H2054.5 V692.8 H2056.5 V676.9 H2058.5 V680.3 H2060.5 V715.8 H2062.5 V769.1 H2064.5 V743.4 H2066.5 V704.3 H2068.5 V734.3 H2070.5 V753.3 H2072.5 V767.1 H2074.5 V765.3 H2076.5 V763.8 H2078.5 V731.9 H2080.5 V706.9 H2082.5 V706.2 H2084.5 V707.7 H2086.5 V723.8 H2088.5 V727.8 H2090.5 V744.7 H2092.5 V732.8 H2094.5 V731.6 H2096.5 V758.3 H2098.5 V779.1 H2100.5 V795.8 H2102.5 V768.9 H2104.5 V752.3 H2106.5 V746.1 H2108.5 V741.1 H2110.5 V735.6 H2112.5 V726.8 H2114.5 V725.9 H2116.5 V740 H2118.5 V776.5 H2120.5 V809.8 H2122.5 V826.6 H2124.5 V855.1 H2126.5 V859.4 H2128.5 V881 H2130.5 V884.6 H2132.5 V898.2 H2134.5 V908.1 H2136.5 V919.3 H2138.5 V918.7 H2140.5 V894.4 H2142.5 V885.5 H2144.5 V848.5 H2146.5 V816.4 H2148.5 V798.7 H2150.5 V785.1 H2152.5 V772.6 H2154.5 V763.8 H2156.5 V763.5 H2158.5 V764.9 H2160.5 V751.4 H2162.5 V738.2 H2164.5 V741.1 H2166.5 V766.7 H2168.5 V790.1 H2170.5 V776.7 H2172.5 V772.9 H2174.5 V778.6 H2176.5 V772.5 H2178.5 V768.1 H2180.5 V775.1 H2182.5 V767.7 H2184.5 V770.4 H2186.5 V774.1 H2188.5 V790.7 H2190.5 V798.1 H2192.5 V811.8 H2194.5 V819.7 H2196.5 V819.9 H2198.5 V817 H2200.5 V827.7 H2202.5 V814.1 H2204.5 V813.1 H2206.5 V830.3 H2208.5 V840.6 H2210.5 V837.2 H2212.5 V839.1 H2214.5 V842.6 H2216.5 V869.3 H2218.5 V892.1 H2220.5 V880.6 H2222.5 V876.9 H2224.5 V875.1 H2226.5 V905.6 H2228.5 V939.7 H2230.5 V935.3 H2232.5 V934.2 H2234.5 V940.5 H2236.5 V959.8 H2238.5 V963.2 H2240.5 V993.8 H2242.5 V1001.4 H2244.5 V1004 H2246.5 V1014.1 H2248.5 V1014.3 H2250.5 V1009 H2252.5 V1008.2 H2254.5 V1014.1 H2256.5 V1020 H2258.5 V1022.1 H2260.5 V1024.3 H2262.5 V1027.1 H2264.5 V1027.3 H2266.5 V1025 H2268.5 V1024.1 H2270.5 V1028.9 H2272.5 V1026.7 H2274.5 V1027.3 H2276.5 V1026.7 H2278.5 V1027 H2280.5 V1028.2 H2282.5 V1026.7 H2284.5 V1028 H2286.5 V1029.3 H2288.5 V1026.5 H2290.5 V1026 H2292.5 V1028 H2294.5 V1028.1 H2296.5 V1027.9 H2298.5 V1026.4 H2300.5 V1028.8 H2302.5 V1027.8 H2304.5 V1027.2 H2306.5 V1027.9 H2308.5 V1026.9 H2310.5 V1026 H2312.5 V1028.8 H2314.5 V1026.4 H2316.5 V1024.2 H2318.5 V1026.5 H2320.5 V1027.8 H2322.5 V1025.8 H2324.5 V1022.6 H2326.5 V1024.2 H2328.5 V1027.1 H2330.5 V1024.8 H2332.5 V1024.6 H2334.5 V1023.4 H2336.5 V1024.7 H2338.5 V1021.6 H2340.5 V1025.3 H2342.5 V1026.8 H2344.5 V1024.4 H2346.5 V1023.9 H2348.5 V1024 H2350.5 V1026 H2352.5 V1023.6 H2354.5 V1025 H2356.5 V1024.5 H2358.5 V1023.9 H2360.5 V1024.8 H2362.5 V1022.1 H2364.5 V1023.9 H2366.5 V1023.6 H2368.5 V1023.8 H2370.5 V1024.7 H2372.5 V1027.1 H2374.5 V1022.2 H2376.5 V1026.4 H2378.5 V1026.8 H2380.5 V1028.4 H2382.5 V1029 H2384.5 V1030 H2386.5 V1028.4 H2388.5 V1027.6 H2390.5 V1027.7 H2392.5 V1028.2 H2394.5 V1029.4 H2396.5 V1028.1 H2398.5 V1025.7 H2400.5 V1023.5 H2402.5 V1025.4 H2404.5 V1024.5 H2406.5 V1022.5 H2408.5 V1022.8 H2410.5 V1021.8 H2412.5 V1020.7 H2414.5 V1021.4 H2416.5 V1023.9 H2418.5 V1023 H2420.5 V1025.7 H2422.5 V1028.5 H2424.5 V1029.5 H2426.5 V1029.3 H2428.5 V1025.2 H2430.5 V1027.1 H2432.5 V1024.9 H2434.5 V1025.4 H2436.5 V1021.8 H2438.5 V1019.8 H2440.5 V1017.4 H2442.5 V1013.4 H2444.5 V1013.6 H2446.5 V1019.9 H2448.5 V1021.8 H2450.5 V1024.5 H2452.5 V1026.6 H2454.5 V1028.3 H2456.5 V1028.1 H2458.5 V1028 H2460.5 V1028.8 H2462.5 V1028 H2464.5 V1030.8 H2466.5 V1029.4 H2468.5 V1027.5 H2470.5 V1027.9 H2472.5 V1029.6 H2474.5 V1028.1 H2476.5 V1028.8 H2478.1 V1033.1 Z" fill="#d9262a"/>
<rect x="2086.5" y="615.4" width="10.5" height="42.5" fill="#6e6d72"/>
<rect x="2086.5" y="690.9" width="10.5" height="42.5" fill="#6e6d72"/>
<rect x="2086.5" y="766.4" width="10.5" height="42.5" fill="#6e6d72"/>
<rect x="2086.5" y="841.9" width="10.5" height="42.5" fill="#6e6d72"/>
<rect x="2086.5" y="917.4" width="10.5" height="42.5" fill="#6e6d72"/>
<rect x="2086.5" y="992.9" width="10.5" height="34.2" fill="#6e6d72"/>
<rect x="2125.9" y="615.4" width="10.5" height="42.5" fill="#e6a528"/>
<rect x="2125.9" y="690.9" width="10.5" height="42.5" fill="#e6a528"/>
<rect x="2125.9" y="766.4" width="10.5" height="42.5" fill="#e6a528"/>
<rect x="2125.9" y="841.9" width="10.5" height="42.5" fill="#e6a528"/>
<rect x="2125.9" y="917.4" width="10.5" height="42.5" fill="#e6a528"/>
<rect x="2125.9" y="992.9" width="10.5" height="34.2" fill="#e6a528"/>
<rect x="2192.7" y="615.4" width="10.5" height="42.5" fill="#e6a528"/>
<rect x="2192.7" y="690.9" width="10.5" height="42.5" fill="#e6a528"/>
<rect x="2192.7" y="766.4" width="10.5" height="42.5" fill="#e6a528"/>
<rect x="2192.7" y="841.9" width="10.5" height="42.5" fill="#e6a528"/>
<rect x="2192.7" y="917.4" width="10.5" height="42.5" fill="#e6a528"/>
<rect x="2192.7" y="992.9" width="10.5" height="34.2" fill="#e6a528"/>
<rect x="2261.5" y="615.4" width="10.5" height="42.5" fill="#6e6d72"/>
<rect x="2261.5" y="690.9" width="10.5" height="42.5" fill="#6e6d72"/>
<rect x="2261.5" y="766.4" width="10.5" height="42.5" fill="#6e6d72"/>
<rect x="2261.5" y="841.9" width="10.5" height="42.5" fill="#6e6d72"/>
<rect x="2261.5" y="917.4" width="10.5" height="42.5" fill="#6e6d72"/>
<rect x="2261.5" y="992.9" width="10.5" height="34.2" fill="#6e6d72"/>
<rect x="1908.5" y="570.1" width="569.6" height="463" fill="none" stroke="#231815" stroke-width="2.8"/>
<path d="M1908.5 949.1h13 M1908.5 864.7h13 M1908.5 780.3h13 M1908.5 696.3h13 M1908.5 612.3h13 M1973.7 1033.1v-13 M2038.6 1033.1v-13 M2103.8 1033.1v-13 M2168.7 1033.1v-13 M2233.5 1033.1v-13 M2298 1033.1v-13 M2363.2 1033.1v-13 M2428.1 1033.1v-13" stroke="#231815" stroke-width="2.8" fill="none"/>
<g font-size="56" text-anchor="end">
<text x="1886.9" y="1047.7">0</text>
<text x="1886.9" y="963.7">20</text>
<text x="1886.9" y="879.3">40</text>
<text x="1886.9" y="794.9">60</text>
<text x="1886.9" y="710.9">80</text>
<text x="1886.9" y="626.9">100</text>
</g>
<g font-size="56" text-anchor="middle">
<text x="1908.5" y="1091.7">0</text>
<text x="1973.7" y="1091.7">10</text>
<text x="2038.6" y="1091.7">20</text>
<text x="2103.8" y="1091.7">30</text>
<text x="2168.7" y="1091.7">40</text>
<text x="2233.5" y="1091.7">50</text>
<text x="2298" y="1091.7">60</text>
<text x="2363.2" y="1091.7">70</text>
<text x="2428.1" y="1091.7">80</text>
</g>
<text x="2191.3" y="1165.1" font-size="54.5" text-anchor="middle">距离/μm</text>
<text transform="translate(1773.7 801.6) rotate(-90)" font-size="54.5" text-anchor="middle">强度</text>
<text x="2115.5" y="612.3" font-size="56" text-anchor="middle">a</text>
<text x="2174.9" y="612.3" font-size="56" text-anchor="middle">b</text>
<text x="2232.4" y="612.3" font-size="56" text-anchor="middle">c</text>
<text x="2432" y="626" font-size="56" text-anchor="middle">V</text>
</g>
<g id="V9">
<path d="M2740 1034.2 V780.2 H2742 V777.9 H2744 V776.5 H2746 V771.1 H2748 V781.6 H2750 V795.4 H2752 V814.3 H2754 V816.9 H2756 V808.1 H2758 V799.1 H2760 V809.7 H2762 V834.6 H2764 V866 H2766 V887.8 H2768 V899.3 H2770 V905.3 H2772 V924.4 H2774 V932 H2776 V938.6 H2778 V927.4 H2780 V919.6 H2782 V900.6 H2784 V880.2 H2786 V810.8 H2788 V756.9 H2790 V728.4 H2792 V718.3 H2794 V676.8 H2796 V639.5 H2798 V636.3 H2800 V644.9 H2802 V667.9 H2804 V701.7 H2806 V731.3 H2808 V755.2 H2810 V789.2 H2812 V792 H2814 V779 H2816 V768 H2818 V762.6 H2820 V761.3 H2822 V736.6 H2824 V718.6 H2826 V742.6 H2828 V762.8 H2830 V777.1 H2832 V768.6 H2834 V734.1 H2836 V701 H2838 V695.5 H2840 V674.3 H2842 V681.2 H2844 V665.1 H2846 V655.6 H2848 V647.2 H2850 V668.7 H2852 V704.5 H2854 V742 H2856 V744.4 H2858 V735.6 H2860 V760.1 H2862 V780.9 H2864 V807.8 H2866 V826.2 H2868 V837.5 H2870 V851.1 H2872 V827.7 H2874 V807.8 H2876 V783 H2878 V756.6 H2880 V751.2 H2882 V742.3 H2884 V750.7 H2886 V755.3 H2888 V753.2 H2890 V744.9 H2892 V758.1 H2894 V772.1 H2896 V744.8 H2898 V724.1 H2900 V723.7 H2902 V721 H2904 V708.9 H2906 V707.2 H2908 V701.5 H2910 V704.5 H2912 V703.8 H2914 V698.7 H2916 V702.3 H2918 V707.1 H2920 V708.2 H2922 V729.4 H2924 V746.9 H2926 V748 H2928 V748.3 H2930 V759.9 H2932 V777.3 H2934 V806.4 H2936 V827.1 H2938 V842.3 H2940 V854.1 H2942 V859.5 H2944 V844.5 H2946 V823.9 H2948 V803.1 H2950 V786.9 H2952 V763.8 H2954 V766.5 H2956 V756.9 H2958 V761.4 H2960 V729.4 H2962 V718 H2964 V704 H2966 V704.3 H2968 V693.9 H2970 V697.8 H2972 V691.7 H2974 V688.7 H2976 V693.4 H2978 V709 H2980 V722 H2982 V707.8 H2984 V706.4 H2986 V710.9 H2988 V723.9 H2990 V733.2 H2992 V756.9 H2994 V765.2 H2996 V784.4 H2998 V809.3 H3000 V813.1 H3002 V803.3 H3004 V784.2 H3006 V751.6 H3008 V725.3 H3010 V699.4 H3012 V695.4 H3014 V692.9 H3016 V696.5 H3018 V689.4 H3020 V688.5 H3022 V718.5 H3024 V738.3 H3026 V735.8 H3028 V728.1 H3030 V716.1 H3032 V715 H3034 V715.9 H3036 V712.2 H3038 V710.6 H3040 V716.3 H3042 V718.8 H3044 V715.2 H3046 V699.6 H3048 V683.9 H3050 V693 H3052 V716.2 H3054 V724 H3056 V701.1 H3058 V682.4 H3060 V670.5 H3062 V664.9 H3064 V669.2 H3066 V664.7 H3068 V662.6 H3070 V687.1 H3072 V705.1 H3074 V701.7 H3076 V692.4 H3078 V696.1 H3080 V699.3 H3082 V693.8 H3084 V701.1 H3086 V720.5 H3088 V723.6 H3090 V724.2 H3092 V706.6 H3094 V696.2 H3096 V676.4 H3098 V684.1 H3100 V687.4 H3102 V712.2 H3104 V718.9 H3106 V751.3 H3108 V790.3 H3110 V788.3 H3112 V767.8 H3114 V739.5 H3116 V711.7 H3118 V738.4 H3120 V773.2 H3122 V771.1 H3124 V768.1 H3126 V758.1 H3128 V753.6 H3130 V744.4 H3132 V724.4 H3134 V712.7 H3136 V693.2 H3138 V688.3 H3140 V714.5 H3142 V732.9 H3144 V721.5 H3146 V701.1 H3148 V692.5 H3150 V724.2 H3152 V754.6 H3154 V761.9 H3156 V782 H3158 V788.1 H3160 V793.5 H3162 V805.5 H3164 V796.3 H3166 V800.3 H3168 V818 H3170 V859.5 H3172 V877.6 H3174 V887.2 H3176 V915.2 H3178 V930.1 H3180 V958.2 H3182 V975.6 H3184 V983.6 H3186 V996.2 H3188 V1003.7 H3190 V1010.4 H3192 V1012.4 H3194 V997.7 H3196 V984.9 H3198 V970.5 H3200 V999.1 H3202 V1014.5 H3204 V1014.8 H3206 V1018.3 H3208 V1020.9 H3210 V1016.2 H3212 V1006.7 H3214 V1004.5 H3216 V1012.6 H3218 V1013.2 H3220 V1018.4 H3222 V1018.2 H3224 V1018.1 H3226 V1017.6 H3228 V1018.7 H3230 V1017.4 H3232 V1015.1 H3234 V1015.8 H3236 V1012.2 H3238 V1012.1 H3240 V1013.7 H3242 V1016.9 H3244 V1015 H3246 V1022.3 H3248 V1027.9 H3250 V1026.8 H3252 V1023.7 H3254 V1023.7 H3256 V1018.9 H3258 V1018.9 H3260 V1018.9 H3262 V1022.9 H3264 V1024.8 H3266 V1027.5 H3268 V1028.2 H3270 V1028.8 H3272 V1028.7 H3274 V1030.2 H3276 V1028.5 H3278 V1028 H3280 V1024.7 H3282 V1018.8 H3284 V1017.2 H3286 V1011.1 H3288 V1016.7 H3290 V1027.8 H3292 V1026.2 H3294 V1025.4 H3296 V1023 H3298 V1019.1 H3300 V1023.3 H3302 V1024.3 H3304 V1023.6 H3306 V1022.7 H3308 V1022.8 H3310 V1024.1 H3310.4 V1034.2 Z" fill="#d9262a"/>
<rect x="2837.5" y="614.2" width="10.5" height="42.5" fill="#6e6d72"/>
<rect x="2837.5" y="689.7" width="10.5" height="42.5" fill="#6e6d72"/>
<rect x="2837.5" y="765.2" width="10.5" height="42.5" fill="#6e6d72"/>
<rect x="2837.5" y="840.7" width="10.5" height="42.5" fill="#6e6d72"/>
<rect x="2837.5" y="916.2" width="10.5" height="42.5" fill="#6e6d72"/>
<rect x="2837.5" y="991.7" width="10.5" height="36.5" fill="#6e6d72"/>
<rect x="2876.6" y="614.2" width="10.5" height="42.5" fill="#e6a528"/>
<rect x="2876.6" y="689.7" width="10.5" height="42.5" fill="#e6a528"/>
<rect x="2876.6" y="765.2" width="10.5" height="42.5" fill="#e6a528"/>
<rect x="2876.6" y="840.7" width="10.5" height="42.5" fill="#e6a528"/>
<rect x="2876.6" y="916.2" width="10.5" height="42.5" fill="#e6a528"/>
<rect x="2876.6" y="991.7" width="10.5" height="36.5" fill="#e6a528"/>
<rect x="3144.6" y="614.2" width="10.5" height="42.5" fill="#e6a528"/>
<rect x="3144.6" y="689.7" width="10.5" height="42.5" fill="#e6a528"/>
<rect x="3144.6" y="765.2" width="10.5" height="42.5" fill="#e6a528"/>
<rect x="3144.6" y="840.7" width="10.5" height="42.5" fill="#e6a528"/>
<rect x="3144.6" y="916.2" width="10.5" height="42.5" fill="#e6a528"/>
<rect x="3144.6" y="991.7" width="10.5" height="36.5" fill="#e6a528"/>
<rect x="3214.9" y="614.2" width="10.5" height="42.5" fill="#6e6d72"/>
<rect x="3214.9" y="689.7" width="10.5" height="42.5" fill="#6e6d72"/>
<rect x="3214.9" y="765.2" width="10.5" height="42.5" fill="#6e6d72"/>
<rect x="3214.9" y="840.7" width="10.5" height="42.5" fill="#6e6d72"/>
<rect x="3214.9" y="916.2" width="10.5" height="42.5" fill="#6e6d72"/>
<rect x="3214.9" y="991.7" width="10.5" height="36.5" fill="#6e6d72"/>
<rect x="2740" y="570.1" width="570.4" height="464.1" fill="none" stroke="#231815" stroke-width="2.8"/>
<path d="M2740 972.9h13 M2740 913.9h13 M2740 854.9h13 M2740 795.5h13 M2740 736.5h13 M2740 677.5h13 M2740 618.5h13 M2829.9 1034.2v-13 M2918.2 1034.2v-13 M3006.1 1034.2v-13 M3094.4 1034.2v-13 M3182.3 1034.2v-13 M3270.6 1034.2v-13" stroke="#231815" stroke-width="2.8" fill="none"/>
<g font-size="56" text-anchor="end">
<text x="2725.1" y="987.5">10</text>
<text x="2725.1" y="928.5">20</text>
<text x="2725.1" y="869.5">30</text>
<text x="2725.1" y="810.1">40</text>
<text x="2725.1" y="751.1">50</text>
<text x="2725.1" y="692.1">60</text>
<text x="2725.1" y="633.1">70</text>
<text x="2725.1" y="1046.5">0</text>
</g>
<g font-size="56" text-anchor="middle">
<text x="2829.9" y="1091.7">10</text>
<text x="2918.2" y="1091.7">20</text>
<text x="3006.1" y="1091.7">30</text>
<text x="3094.4" y="1091.7">40</text>
<text x="3182.3" y="1091.7">50</text>
<text x="3270.6" y="1091.7">60</text>
</g>
<text x="3023.2" y="1165.1" font-size="54.5" text-anchor="middle">距离/μm</text>
<text transform="translate(2606.8 802.2) rotate(-90)" font-size="54.5" text-anchor="middle">强度</text>
<text x="2859.6" y="612.3" font-size="56" text-anchor="middle">a</text>
<text x="3012" y="612.3" font-size="56" text-anchor="middle">b</text>
<text x="3181.9" y="612.3" font-size="56" text-anchor="middle">c</text>
<text x="3267.9" y="627.9" font-size="56" text-anchor="middle">V</text>
</g>
<g id="Ca0">
<path d="M221.2 1746.7 L221.2 1742 L254.4 1742 L293.5 1741.3 L316.9 1736.2 L328.7 1737 L344.3 1740.1 L359.9 1738.1 L371.6 1740.9 L383.3 1738.1 L395.1 1742 L410.7 1740.1 L430.2 1740.1 L453.7 1740.9 L465.4 1736.2 L477.1 1734.2 L486.9 1724.5 L492 1701 L494.7 1650.2 L497.4 1611.2 L501.3 1552.6 L504.5 1529.1 L508.4 1533 L515.4 1570.1 L527.9 1576 L539.6 1550.6 L551.3 1533 L558.4 1490 L563.9 1441.2 L570.9 1447.1 L576.7 1454.9 L584.6 1494 L594.3 1536.9 L601 1564.3 L611.9 1527.2 L624.8 1538.9 L636.5 1513.5 L649 1519.3 L660.7 1538.9 L671.7 1535 L678.3 1474.4 L684.2 1434.2 L696.7 1428.7 L702.9 1447.1 L708.8 1462.7 L719.3 1385.7 L729.1 1376.7 L742.8 1372.8 L747.5 1374 L754.5 1386.5 L762.3 1408 L768.2 1423.6 L774 1404.1 L781.1 1376.7 L787.7 1382.6 L790.8 1384.6 L790.8 1746.7 Z" fill="#2b4092"/>
<rect x="469.1" y="1333.8" width="10.5" height="42.5" fill="#6e6d72"/>
<rect x="469.1" y="1409.3" width="10.5" height="42.5" fill="#6e6d72"/>
<rect x="469.1" y="1484.8" width="10.5" height="42.5" fill="#6e6d72"/>
<rect x="469.1" y="1560.3" width="10.5" height="42.5" fill="#6e6d72"/>
<rect x="469.1" y="1635.8" width="10.5" height="42.5" fill="#6e6d72"/>
<rect x="469.1" y="1711.3" width="10.5" height="29.5" fill="#6e6d72"/>
<rect x="496.1" y="1333.8" width="10.5" height="42.5" fill="#e6a528"/>
<rect x="496.1" y="1409.3" width="10.5" height="42.5" fill="#e6a528"/>
<rect x="496.1" y="1484.8" width="10.5" height="42.5" fill="#e6a528"/>
<rect x="496.1" y="1560.3" width="10.5" height="42.5" fill="#e6a528"/>
<rect x="496.1" y="1635.8" width="10.5" height="42.5" fill="#e6a528"/>
<rect x="496.1" y="1711.3" width="10.5" height="29.5" fill="#e6a528"/>
<rect x="552.7" y="1333.8" width="10.5" height="42.5" fill="#6e6d72"/>
<rect x="552.7" y="1409.3" width="10.5" height="42.5" fill="#6e6d72"/>
<rect x="552.7" y="1484.8" width="10.5" height="42.5" fill="#6e6d72"/>
<rect x="552.7" y="1560.3" width="10.5" height="42.5" fill="#6e6d72"/>
<rect x="552.7" y="1635.8" width="10.5" height="42.5" fill="#6e6d72"/>
<rect x="552.7" y="1711.3" width="10.5" height="29.5" fill="#6e6d72"/>
<rect x="221.2" y="1281.8" width="569.6" height="464.9" fill="none" stroke="#231815" stroke-width="2.8"/>
<path d="M221.2 1652.2h13 M221.2 1560.4h13 M221.2 1467h13 M221.2 1375.6h13 M316.1 1746.7v-13 M410.7 1746.7v-13 M505.6 1746.7v-13 M601 1746.7v-13 M695.9 1746.7v-13" stroke="#231815" stroke-width="2.8" fill="none"/>
<g font-size="56" text-anchor="end">
<text x="198.9" y="1666.8">100</text>
<text x="198.9" y="1575">200</text>
<text x="198.9" y="1481.6">300</text>
<text x="198.9" y="1390.2">400</text>
<text x="198.9" y="1761.3">0</text>
<text x="198.9" y="1296.4">500</text>
</g>
<g font-size="56" text-anchor="middle">
<text x="221.2" y="1804.6">420</text>
<text x="316.1" y="1804.6">440</text>
<text x="410.7" y="1804.6">460</text>
<text x="505.6" y="1804.6">480</text>
<text x="601" y="1804.6">500</text>
<text x="695.9" y="1804.6">520</text>
<text x="790.8" y="1804.6">540</text>
</g>
<text x="504" y="1880.7" font-size="54.5" text-anchor="middle">距离/μm</text>
<text transform="translate(83.7 1514.3) rotate(-90)" font-size="54.5" text-anchor="middle">强度</text>
<text x="484.9" y="1324" font-size="56" text-anchor="middle">a</text>
<text x="533.8" y="1324" font-size="56" text-anchor="middle">c</text>
<text x="736.9" y="1331.8" font-size="56" text-anchor="middle">Ca</text>
</g>
<g id="Ca3">
<path d="M1076.5 1731.5 V1715.6 H1078.5 V1715.3 H1080.5 V1717.9 H1082.5 V1719.3 H1084.5 V1717.1 H1086.5 V1717.3 H1088.5 V1715 H1090.5 V1715 H1092.5 V1716.1 H1094.5 V1717.3 H1096.5 V1720.8 H1098.5 V1721 H1100.5 V1719.8 H1102.5 V1719.6 H1104.5 V1718.8 H1106.5 V1718 H1108.5 V1718.1 H1110.5 V1718.4 H1112.5 V1718.9 H1114.5 V1717.8 H1116.5 V1719 H1118.5 V1718.9 H1120.5 V1717.5 H1122.5 V1714.8 H1124.5 V1714.7 H1126.5 V1715.6 H1128.5 V1714.1 H1130.5 V1717.5 H1132.5 V1715.6 H1134.5 V1716.6 H1136.5 V1719.4 H1138.5 V1717.3 H1140.5 V1719.5 H1142.5 V1720.4 H1144.5 V1720.3 H1146.5 V1721.6 H1148.5 V1718.8 H1150.5 V1717.5 H1152.5 V1720.9 H1154.5 V1719.9 H1156.5 V1719.6 H1158.5 V1716 H1160.5 V1720.6 H1162.5 V1718.1 H1164.5 V1719.6 H1166.5 V1722.6 H1168.5 V1721.4 H1170.5 V1721.4 H1172.5 V1718.7 H1174.5 V1716.9 H1176.5 V1716 H1178.5 V1712.7 H1180.5 V1709.8 H1182.5 V1703.4 H1184.5 V1708.7 H1186.5 V1712.7 H1188.5 V1712.7 H1190.5 V1710.2 H1192.5 V1709 H1194.5 V1710.6 H1196.5 V1715.3 H1198.5 V1714.8 H1200.5 V1713.3 H1202.5 V1714.9 H1204.5 V1715.2 H1206.5 V1715.9 H1208.5 V1716 H1210.5 V1717.9 H1212.5 V1717.2 H1214.5 V1720 H1216.5 V1718.8 H1218.5 V1716.4 H1220.5 V1716.8 H1222.5 V1719.2 H1224.5 V1717 H1226.5 V1715.1 H1228.5 V1718.2 H1230.5 V1711.4 H1232.5 V1715.5 H1234.5 V1716.3 H1236.5 V1716.7 H1238.5 V1716.3 H1240.5 V1716.7 H1242.5 V1716.2 H1244.5 V1722.2 H1246.5 V1721.9 H1248.5 V1721.3 H1250.5 V1720.1 H1252.5 V1720 H1254.5 V1719.3 H1256.5 V1720.8 H1258.5 V1719.3 H1260.5 V1721.2 H1262.5 V1718 H1264.5 V1717.3 H1266.5 V1716.7 H1268.5 V1717.2 H1270.5 V1712.4 H1272.5 V1712.6 H1274.5 V1712.6 H1276.5 V1711.5 H1278.5 V1712.9 H1280.5 V1712.9 H1282.5 V1701.2 H1284.5 V1690 H1286.5 V1682.5 H1288.5 V1673.5 H1290.5 V1670.5 H1292.5 V1661.5 H1294.5 V1648.7 H1296.5 V1647.6 H1298.5 V1646.6 H1300.5 V1645.7 H1302.5 V1636 H1304.5 V1627.8 H1306.5 V1623.6 H1308.5 V1627.2 H1310.5 V1633.2 H1312.5 V1644.8 H1314.5 V1648.1 H1316.5 V1643.5 H1318.5 V1644.7 H1320.5 V1644.9 H1322.5 V1636.7 H1324.5 V1626.5 H1326.5 V1645.6 H1328.5 V1652.8 H1330.5 V1659.5 H1332.5 V1666.8 H1334.5 V1657.4 H1336.5 V1650.7 H1338.5 V1653.6 H1340.5 V1650.5 H1342.5 V1630.7 H1344.5 V1582.9 H1346.5 V1553 H1348.5 V1519.6 H1350.5 V1493.2 H1352.5 V1493.5 H1354.5 V1486.2 H1356.5 V1473.9 H1358.5 V1472.3 H1360.5 V1479.7 H1362.5 V1488.4 H1364.5 V1492.6 H1366.5 V1496.8 H1368.5 V1509.2 H1370.5 V1518.5 H1372.5 V1530.4 H1374.5 V1534.8 H1376.5 V1536.2 H1378.5 V1546.4 H1380.5 V1550.5 H1382.5 V1557.5 H1384.5 V1521.2 H1386.5 V1515.2 H1388.5 V1518.4 H1390.5 V1521.3 H1392.5 V1516.4 H1394.5 V1509.6 H1396.5 V1512.4 H1398.5 V1489.2 H1400.5 V1471.7 H1402.5 V1459.8 H1404.5 V1467 H1406.5 V1469.3 H1408.5 V1470.4 H1410.5 V1459.9 H1412.5 V1477.4 H1414.5 V1492.4 H1416.5 V1498.1 H1418.5 V1485.9 H1420.5 V1479.5 H1422.5 V1460.2 H1424.5 V1471.6 H1426.5 V1470.7 H1428.5 V1448.5 H1430.5 V1439.3 H1432.5 V1445.9 H1434.5 V1441.2 H1436.5 V1424.6 H1438.5 V1421.9 H1440.5 V1438.3 H1442.5 V1423.5 H1444.5 V1397.5 H1446.5 V1396.3 H1448.5 V1392.9 H1450.5 V1390.7 H1452.5 V1384.1 H1454.5 V1378.5 H1456.5 V1374.4 H1458.5 V1370.4 H1460.5 V1378.7 H1462.5 V1396.2 H1464.5 V1413.2 H1466.5 V1406.9 H1468.5 V1407.4 H1470.5 V1398.8 H1472.5 V1399.3 H1474.5 V1395.3 H1476.5 V1376.8 H1478.5 V1363.2 H1480.5 V1343 H1482.5 V1367.3 H1484.5 V1406.7 H1486.5 V1409.1 H1488.5 V1409.9 H1490.5 V1402.4 H1492.5 V1397.7 H1494.5 V1391.5 H1496.5 V1394.6 H1498.5 V1391.9 H1500.5 V1383.4 H1502.5 V1368.9 H1504.5 V1354.8 H1506.5 V1347.9 H1508.5 V1369.7 H1510.5 V1386.1 H1512.5 V1375 H1514.5 V1376.9 H1516.5 V1368.8 H1518.5 V1382.2 H1520.5 V1390.5 H1522.5 V1401.6 H1524.5 V1416.4 H1526.5 V1431.4 H1528.5 V1435.6 H1530.5 V1442.3 H1532.5 V1457.8 H1534.5 V1469 H1536.5 V1484.6 H1538.5 V1495.9 H1540.5 V1513.7 H1542.5 V1523.1 H1544.5 V1543.9 H1546.5 V1554.7 H1548.5 V1573 H1550.5 V1580.3 H1552.5 V1590.4 H1554.5 V1584.2 H1556.5 V1571 H1558.5 V1556.6 H1560.5 V1540.8 H1562.5 V1521 H1564.5 V1505 H1566.5 V1489.7 H1568.5 V1471.8 H1570.5 V1480.6 H1572.5 V1500.5 H1574.5 V1479.7 H1576.5 V1468.3 H1578.5 V1446.5 H1580.5 V1424.2 H1582.5 V1403.8 H1584.5 V1401.6 H1586.5 V1406.1 H1588.5 V1394.2 H1590.5 V1397.5 H1592.5 V1405.5 H1594.5 V1414.9 H1596.5 V1405.5 H1598.5 V1406.9 H1600.5 V1403.7 H1602.5 V1417.6 H1604.5 V1428.4 H1606.5 V1439.6 H1608.5 V1442.5 H1610.5 V1447.5 H1612.5 V1471.6 H1614.5 V1491.2 H1616.5 V1492.5 H1618.5 V1470.3 H1620.5 V1460.5 H1622.5 V1437.5 H1624.5 V1424.7 H1626.5 V1410.3 H1628.5 V1388.5 H1630.5 V1394.7 H1632.5 V1399.5 H1634.5 V1394.4 H1636.5 V1393.6 H1638.5 V1375.6 H1640.5 V1359.2 H1642.5 V1345.1 H1644.5 V1336.5 H1646.5 V1336.8 H1646.9 V1731.5 Z" fill="#334d9f"/>
<rect x="1243.6" y="1312.3" width="10.5" height="42.5" fill="#6e6d72"/>
<rect x="1243.6" y="1387.8" width="10.5" height="42.5" fill="#6e6d72"/>
<rect x="1243.6" y="1463.3" width="10.5" height="42.5" fill="#6e6d72"/>
<rect x="1243.6" y="1538.8" width="10.5" height="42.5" fill="#6e6d72"/>
<rect x="1243.6" y="1614.3" width="10.5" height="42.5" fill="#6e6d72"/>
<rect x="1243.6" y="1689.8" width="10.5" height="35.7" fill="#6e6d72"/>
<rect x="1283.8" y="1312.3" width="10.5" height="42.5" fill="#e6a528"/>
<rect x="1283.8" y="1387.8" width="10.5" height="42.5" fill="#e6a528"/>
<rect x="1283.8" y="1463.3" width="10.5" height="42.5" fill="#e6a528"/>
<rect x="1283.8" y="1538.8" width="10.5" height="42.5" fill="#e6a528"/>
<rect x="1283.8" y="1614.3" width="10.5" height="42.5" fill="#e6a528"/>
<rect x="1283.8" y="1689.8" width="10.5" height="35.7" fill="#e6a528"/>
<rect x="1335.8" y="1312.3" width="10.5" height="42.5" fill="#e6a528"/>
<rect x="1335.8" y="1387.8" width="10.5" height="42.5" fill="#e6a528"/>
<rect x="1335.8" y="1463.3" width="10.5" height="42.5" fill="#e6a528"/>
<rect x="1335.8" y="1538.8" width="10.5" height="42.5" fill="#e6a528"/>
<rect x="1335.8" y="1614.3" width="10.5" height="42.5" fill="#e6a528"/>
<rect x="1335.8" y="1689.8" width="10.5" height="35.7" fill="#e6a528"/>
<rect x="1392.8" y="1312.3" width="10.5" height="42.5" fill="#6e6d72"/>
<rect x="1392.8" y="1387.8" width="10.5" height="42.5" fill="#6e6d72"/>
<rect x="1392.8" y="1463.3" width="10.5" height="42.5" fill="#6e6d72"/>
<rect x="1392.8" y="1538.8" width="10.5" height="42.5" fill="#6e6d72"/>
<rect x="1392.8" y="1614.3" width="10.5" height="42.5" fill="#6e6d72"/>
<rect x="1392.8" y="1689.8" width="10.5" height="35.7" fill="#6e6d72"/>
<rect x="1076.5" y="1268.1" width="570.4" height="463.4" fill="none" stroke="#231815" stroke-width="2.8"/>
<path d="M1076.5 1647.5h13 M1076.5 1563.5h13 M1076.5 1479.5h13 M1076.5 1395.5h13 M1076.5 1311.5h13 M1183.2 1731.5v-13 M1289.1 1731.5v-13 M1394.9 1731.5v-13 M1500.8 1731.5v-13 M1606.7 1731.5v-13" stroke="#231815" stroke-width="2.8" fill="none"/>
<g font-size="56" text-anchor="end">
<text x="1056.9" y="1746.1">0</text>
<text x="1056.9" y="1662.1">50</text>
<text x="1056.9" y="1578.1">100</text>
<text x="1056.9" y="1494.1">150</text>
<text x="1056.9" y="1410.1">200</text>
<text x="1056.9" y="1326.1">250</text>
</g>
<g font-size="56" text-anchor="middle">
<text x="1076.5" y="1788.9">0</text>
<text x="1183.2" y="1788.9">20</text>
<text x="1289.1" y="1788.9">40</text>
<text x="1394.9" y="1788.9">60</text>
<text x="1500.8" y="1788.9">80</text>
<text x="1606.7" y="1788.9">100</text>
</g>
<text x="1359.7" y="1865.1" font-size="54.5" text-anchor="middle">距离/μm</text>
<text transform="translate(943.7 1499.8) rotate(-90)" font-size="54.5" text-anchor="middle">强度</text>
<text x="1266.8" y="1310.3" font-size="56" text-anchor="middle">a</text>
<text x="1319.5" y="1310.3" font-size="56" text-anchor="middle">b</text>
<text x="1371.5" y="1310.3" font-size="56" text-anchor="middle">c</text>
<text x="1600.8" y="1316.2" font-size="56" text-anchor="middle">Ca</text>
</g>
<g id="Ca6">
<path d="M1907.3 1735.4 V1723.1 H1909.3 V1724.9 H1911.3 V1724.7 H1913.3 V1725.2 H1915.3 V1721.6 H1917.3 V1723.8 H1919.3 V1722.2 H1921.3 V1722.7 H1923.3 V1722.7 H1925.3 V1723.7 H1927.3 V1721.1 H1929.3 V1720.6 H1931.3 V1718.4 H1933.3 V1718.7 H1935.3 V1722.7 H1937.3 V1724.1 H1939.3 V1725.7 H1941.3 V1728.4 H1943.3 V1729.5 H1945.3 V1729 H1947.3 V1728.2 H1949.3 V1728.1 H1951.3 V1725 H1953.3 V1728.5 H1955.3 V1726.1 H1957.3 V1725.5 H1959.3 V1724.7 H1961.3 V1723.4 H1963.3 V1723.1 H1965.3 V1722.1 H1967.3 V1720.9 H1969.3 V1720.8 H1971.3 V1721.9 H1973.3 V1723.6 H1975.3 V1725.4 H1977.3 V1723.8 H1979.3 V1724.7 H1981.3 V1724.1 H1983.3 V1726.5 H1985.3 V1726.9 H1987.3 V1727.4 H1989.3 V1725 H1991.3 V1725.7 H1993.3 V1725.1 H1995.3 V1721.7 H1997.3 V1723.2 H1999.3 V1723.1 H2001.3 V1721.6 H2003.3 V1724 H2005.3 V1726.6 H2007.3 V1728.2 H2009.3 V1727.3 H2011.3 V1727.3 H2013.3 V1728.8 H2015.3 V1727 H2017.3 V1728 H2019.3 V1727.3 H2021.3 V1727.5 H2023.3 V1727.8 H2025.3 V1726.6 H2027.3 V1726 H2029.3 V1724.5 H2031.3 V1726.8 H2033.3 V1725 H2035.3 V1722.8 H2037.3 V1722.7 H2039.3 V1724.1 H2041.3 V1723 H2043.3 V1722.1 H2045.3 V1721.4 H2047.3 V1722.5 H2049.3 V1724 H2051.3 V1723.1 H2053.3 V1723.9 H2055.3 V1722.7 H2057.3 V1721.9 H2059.3 V1720.4 H2061.3 V1720.2 H2063.3 V1718.7 H2065.3 V1719.9 H2067.3 V1721.3 H2069.3 V1714.1 H2071.3 V1698.2 H2073.3 V1683.8 H2075.3 V1661.5 H2077.3 V1667.1 H2079.3 V1670.4 H2081.3 V1705.3 H2083.3 V1720.1 H2085.3 V1721.4 H2087.3 V1720.9 H2089.3 V1722.2 H2091.3 V1723.8 H2093.3 V1721.4 H2095.3 V1721.9 H2097.3 V1723.1 H2099.3 V1722.5 H2101.3 V1722 H2103.3 V1720.6 H2105.3 V1721.1 H2107.3 V1720.4 H2109.3 V1717.6 H2111.3 V1715.2 H2113.3 V1717.7 H2115.3 V1715.3 H2117.3 V1709.2 H2119.3 V1710.5 H2121.3 V1704.2 H2123.3 V1700.4 H2125.3 V1695.8 H2127.3 V1699.4 H2129.3 V1692.4 H2131.3 V1686 H2133.3 V1684.1 H2135.3 V1682.6 H2137.3 V1676.4 H2139.3 V1665.3 H2141.3 V1649.6 H2143.3 V1646.2 H2145.3 V1634.2 H2147.3 V1633.3 H2149.3 V1626.7 H2151.3 V1621.4 H2153.3 V1612.3 H2155.3 V1608.1 H2157.3 V1614.4 H2159.3 V1619.1 H2161.3 V1614.3 H2163.3 V1602.2 H2165.3 V1596.8 H2167.3 V1597.6 H2169.3 V1596.9 H2171.3 V1600 H2173.3 V1585.2 H2175.3 V1590.8 H2177.3 V1590.2 H2179.3 V1598.3 H2181.3 V1603.4 H2183.3 V1603.7 H2185.3 V1595.9 H2187.3 V1592.4 H2189.3 V1572.6 H2191.3 V1557.5 H2193.3 V1565.2 H2195.3 V1570.9 H2197.3 V1558.9 H2199.3 V1540.8 H2201.3 V1521.1 H2203.3 V1497.3 H2205.3 V1478.1 H2207.3 V1487.9 H2209.3 V1503.3 H2211.3 V1500.5 H2213.3 V1495.4 H2215.3 V1486.9 H2217.3 V1491.3 H2219.3 V1490.4 H2221.3 V1490.3 H2223.3 V1478 H2225.3 V1463.7 H2227.3 V1477.2 H2229.3 V1481.7 H2231.3 V1469.2 H2233.3 V1448.1 H2235.3 V1431.5 H2237.3 V1416.4 H2239.3 V1415.5 H2241.3 V1396.3 H2243.3 V1386.6 H2245.3 V1367.1 H2247.3 V1368.5 H2249.3 V1378.7 H2251.3 V1377.2 H2253.3 V1367.7 H2255.3 V1360.7 H2257.3 V1354.1 H2259.3 V1354.1 H2261.3 V1354 H2263.3 V1352.5 H2265.3 V1362.3 H2267.3 V1378.9 H2269.3 V1398.1 H2271.3 V1377.8 H2273.3 V1360.7 H2275.3 V1349.8 H2277.3 V1337.8 H2279.3 V1325.2 H2281.3 V1325.8 H2283.3 V1343.5 H2285.3 V1375.2 H2287.3 V1405.2 H2289.3 V1440.7 H2291.3 V1473.5 H2293.3 V1520.1 H2295.3 V1519.2 H2297.3 V1499.4 H2299.3 V1490.1 H2301.3 V1490.3 H2303.3 V1507.5 H2305.3 V1515.2 H2307.3 V1498.1 H2309.3 V1489.8 H2311.3 V1477.6 H2313.3 V1462.8 H2315.3 V1430.9 H2317.3 V1422 H2319.3 V1419.2 H2321.3 V1415.7 H2323.3 V1399.1 H2325.3 V1386.5 H2327.3 V1386.2 H2329.3 V1397.3 H2331.3 V1395.4 H2333.3 V1388.4 H2335.3 V1382.4 H2337.3 V1396.4 H2339.3 V1405 H2341.3 V1406.1 H2343.3 V1404.2 H2345.3 V1401.1 H2347.3 V1404.4 H2349.3 V1403.4 H2351.3 V1400.3 H2353.3 V1381.6 H2355.3 V1351.9 H2357.3 V1358.5 H2359.3 V1374.3 H2361.3 V1369.9 H2363.3 V1368.5 H2365.3 V1359.1 H2367.3 V1359.2 H2369.3 V1355.3 H2371.3 V1377.5 H2373.3 V1404.9 H2375.3 V1416 H2377.3 V1423.4 H2379.3 V1405.3 H2381.3 V1386.8 H2383.3 V1374.1 H2385.3 V1366.8 H2387.3 V1357.7 H2389.3 V1353.4 H2391.3 V1352.2 H2393.3 V1341.8 H2395.3 V1317.8 H2397.3 V1367.4 H2399.3 V1416.4 H2401.3 V1461 H2403.3 V1490.1 H2405.3 V1509.6 H2407.3 V1496.9 H2409.3 V1490.4 H2411.3 V1471.3 H2413.3 V1457.4 H2415.3 V1451.4 H2417.3 V1481.8 H2419.3 V1491.4 H2421.3 V1487.6 H2423.3 V1484.8 H2425.3 V1480.9 H2427.3 V1476.4 H2429.3 V1476.3 H2431.3 V1475.9 H2433.3 V1474.6 H2435.3 V1471.9 H2437.3 V1488.1 H2439.3 V1502.5 H2441.3 V1511.7 H2443.3 V1518 H2445.3 V1519.5 H2447.3 V1524.1 H2449.3 V1512.4 H2451.3 V1454.1 H2453.3 V1510.8 H2455.3 V1508.7 H2457.3 V1505.5 H2459.3 V1499.8 H2461.3 V1499.8 H2463.3 V1497.4 H2465.3 V1496.4 H2467.3 V1492.3 H2469.3 V1491.2 H2471.3 V1487 H2473.3 V1482.9 H2475.3 V1480.6 H2476.9 V1735.4 Z" fill="#334d9f"/>
<rect x="2090.4" y="1322.8" width="10.5" height="42.5" fill="#6e6d72"/>
<rect x="2090.4" y="1398.3" width="10.5" height="42.5" fill="#6e6d72"/>
<rect x="2090.4" y="1473.8" width="10.5" height="42.5" fill="#6e6d72"/>
<rect x="2090.4" y="1549.3" width="10.5" height="42.5" fill="#6e6d72"/>
<rect x="2090.4" y="1624.8" width="10.5" height="42.5" fill="#6e6d72"/>
<rect x="2090.4" y="1700.3" width="10.5" height="29.1" fill="#6e6d72"/>
<rect x="2130.6" y="1322.8" width="10.5" height="42.5" fill="#e6a528"/>
<rect x="2130.6" y="1398.3" width="10.5" height="42.5" fill="#e6a528"/>
<rect x="2130.6" y="1473.8" width="10.5" height="42.5" fill="#e6a528"/>
<rect x="2130.6" y="1549.3" width="10.5" height="42.5" fill="#e6a528"/>
<rect x="2130.6" y="1624.8" width="10.5" height="42.5" fill="#e6a528"/>
<rect x="2130.6" y="1700.3" width="10.5" height="29.1" fill="#e6a528"/>
<rect x="2196.6" y="1322.8" width="10.5" height="42.5" fill="#e6a528"/>
<rect x="2196.6" y="1398.3" width="10.5" height="42.5" fill="#e6a528"/>
<rect x="2196.6" y="1473.8" width="10.5" height="42.5" fill="#e6a528"/>
<rect x="2196.6" y="1549.3" width="10.5" height="42.5" fill="#e6a528"/>
<rect x="2196.6" y="1624.8" width="10.5" height="42.5" fill="#e6a528"/>
<rect x="2196.6" y="1700.3" width="10.5" height="29.1" fill="#e6a528"/>
<rect x="2265.4" y="1322.8" width="10.5" height="42.5" fill="#6e6d72"/>
<rect x="2265.4" y="1398.3" width="10.5" height="42.5" fill="#6e6d72"/>
<rect x="2265.4" y="1473.8" width="10.5" height="42.5" fill="#6e6d72"/>
<rect x="2265.4" y="1549.3" width="10.5" height="42.5" fill="#6e6d72"/>
<rect x="2265.4" y="1624.8" width="10.5" height="42.5" fill="#6e6d72"/>
<rect x="2265.4" y="1700.3" width="10.5" height="29.1" fill="#6e6d72"/>
<rect x="1907.3" y="1270.1" width="569.6" height="465.3" fill="none" stroke="#231815" stroke-width="2.8"/>
<path d="M1907.3 1672.1h13 M1907.3 1610.4h13 M1907.3 1549h13 M1907.3 1487.7h13 M1907.3 1426.8h13 M1907.3 1365.4h13 M1907.3 1303.7h13 M1972.5 1735.4v-13 M2037.4 1735.4v-13 M2102.7 1735.4v-13 M2167.9 1735.4v-13 M2232.4 1735.4v-13 M2296.8 1735.4v-13 M2361.7 1735.4v-13 M2426.5 1735.4v-13" stroke="#231815" stroke-width="2.8" fill="none"/>
<g font-size="56" text-anchor="end">
<text x="1886.9" y="1686.7">20</text>
<text x="1886.9" y="1625">40</text>
<text x="1886.9" y="1563.6">60</text>
<text x="1886.9" y="1502.3">80</text>
<text x="1886.9" y="1441.4">100</text>
<text x="1886.9" y="1380">120</text>
<text x="1886.9" y="1318.3">140</text>
<text x="1886.9" y="1747.7">0</text>
</g>
<g font-size="56" text-anchor="middle">
<text x="1907.3" y="1791.7">0</text>
<text x="1972.5" y="1791.7">10</text>
<text x="2037.4" y="1791.7">20</text>
<text x="2102.7" y="1791.7">30</text>
<text x="2167.9" y="1791.7">40</text>
<text x="2232.4" y="1791.7">50</text>
<text x="2296.8" y="1791.7">60</text>
<text x="2361.7" y="1791.7">70</text>
<text x="2426.5" y="1791.7">80</text>
</g>
<text x="2190.1" y="1860" font-size="54.5" text-anchor="middle">距离/μm</text>
<text transform="translate(1773.7 1502.7) rotate(-90)" font-size="54.5" text-anchor="middle">强度</text>
<text x="2118.3" y="1314.2" font-size="56" text-anchor="middle">a</text>
<text x="2176.9" y="1314.2" font-size="56" text-anchor="middle">b</text>
<text x="2235.5" y="1314.2" font-size="56" text-anchor="middle">c</text>
<text x="2428.1" y="1320.1" font-size="56" text-anchor="middle">Ca</text>
</g>
<g id="Ca9">
<path d="M2741.2 1738.5 V1729 H2743.2 V1729.6 H2745.2 V1729 H2747.2 V1727.2 H2749.2 V1732 H2751.2 V1729.2 H2753.2 V1724.9 H2755.2 V1722.4 H2757.2 V1724.6 H2759.2 V1728.5 H2761.2 V1729.1 H2763.2 V1731.7 H2765.2 V1731.8 H2767.2 V1730.1 H2769.2 V1731.4 H2771.2 V1732.2 H2773.2 V1731.4 H2775.2 V1730.6 H2777.2 V1731.9 H2779.2 V1729.8 H2781.2 V1728.2 H2783.2 V1728 H2785.2 V1727.3 H2787.2 V1729.4 H2789.2 V1729.5 H2791.2 V1730.5 H2793.2 V1731.1 H2795.2 V1731.1 H2797.2 V1730.5 H2799.2 V1730.9 H2801.2 V1729.9 H2803.2 V1728.3 H2805.2 V1728.9 H2807.2 V1725.3 H2809.2 V1725.1 H2811.2 V1720.8 H2813.2 V1717.7 H2815.2 V1721 H2817.2 V1722 H2819.2 V1722.4 H2821.2 V1724.1 H2823.2 V1723.8 H2825.2 V1724.2 H2827.2 V1720.6 H2829.2 V1718.7 H2831.2 V1712.3 H2833.2 V1718.6 H2835.2 V1724.9 H2837.2 V1727.7 H2839.2 V1727.4 H2841.2 V1726.8 H2843.2 V1726.3 H2845.2 V1726 H2847.2 V1724.6 H2849.2 V1725.4 H2851.2 V1722.1 H2853.2 V1722.3 H2855.2 V1721.1 H2857.2 V1721.3 H2859.2 V1718.6 H2861.2 V1717.3 H2863.2 V1713.6 H2865.2 V1709.6 H2867.2 V1708.2 H2869.2 V1704.4 H2871.2 V1705.8 H2873.2 V1699.5 H2875.2 V1689.2 H2877.2 V1689.6 H2879.2 V1683.7 H2881.2 V1678.1 H2883.2 V1672.4 H2885.2 V1660.3 H2887.2 V1662 H2889.2 V1667.4 H2891.2 V1669.8 H2893.2 V1665.4 H2895.2 V1671.7 H2897.2 V1667.1 H2899.2 V1658.2 H2901.2 V1659.7 H2903.2 V1653.7 H2905.2 V1656.9 H2907.2 V1656 H2909.2 V1654.5 H2911.2 V1652.1 H2913.2 V1650.2 H2915.2 V1649.7 H2917.2 V1643 H2919.2 V1639 H2921.2 V1634.4 H2923.2 V1631.3 H2925.2 V1645.3 H2927.2 V1659.7 H2929.2 V1661.7 H2931.2 V1664.9 H2933.2 V1658.3 H2935.2 V1664.6 H2937.2 V1665.2 H2939.2 V1657.5 H2941.2 V1658.3 H2943.2 V1660 H2945.2 V1660.5 H2947.2 V1661.6 H2949.2 V1664.6 H2951.2 V1662.1 H2953.2 V1660.9 H2955.2 V1659.8 H2957.2 V1656.2 H2959.2 V1651.6 H2961.2 V1640 H2963.2 V1633 H2965.2 V1629.1 H2967.2 V1630.8 H2969.2 V1638.6 H2971.2 V1643.7 H2973.2 V1644.3 H2975.2 V1646 H2977.2 V1641.5 H2979.2 V1639.8 H2981.2 V1641.7 H2983.2 V1644.8 H2985.2 V1651.3 H2987.2 V1652 H2989.2 V1656.9 H2991.2 V1661.1 H2993.2 V1666.2 H2995.2 V1669 H2997.2 V1678.6 H2999.2 V1669.3 H3001.2 V1664.5 H3003.2 V1661.8 H3005.2 V1650.1 H3007.2 V1649.5 H3009.2 V1640 H3011.2 V1631.9 H3013.2 V1633.3 H3015.2 V1629.7 H3017.2 V1636.1 H3019.2 V1631.3 H3021.2 V1634.4 H3023.2 V1640.8 H3025.2 V1641.2 H3027.2 V1646.6 H3029.2 V1650.6 H3031.2 V1637 H3033.2 V1631.5 H3035.2 V1636.8 H3037.2 V1645.6 H3039.2 V1645.8 H3041.2 V1637.4 H3043.2 V1635.3 H3045.2 V1628.9 H3047.2 V1634.8 H3049.2 V1636.8 H3051.2 V1642.3 H3053.2 V1644.8 H3055.2 V1642.6 H3057.2 V1639.7 H3059.2 V1632.6 H3061.2 V1635.2 H3063.2 V1634.3 H3065.2 V1642.5 H3067.2 V1641.6 H3069.2 V1653.9 H3071.2 V1651.3 H3073.2 V1649 H3075.2 V1646.7 H3077.2 V1645.3 H3079.2 V1636.9 H3081.2 V1633.8 H3083.2 V1631.4 H3085.2 V1635.7 H3087.2 V1633.2 H3089.2 V1634.3 H3091.2 V1640.9 H3093.2 V1636.7 H3095.2 V1636.9 H3097.2 V1638.8 H3099.2 V1642.6 H3101.2 V1649.3 H3103.2 V1653.4 H3105.2 V1657.2 H3107.2 V1655 H3109.2 V1651.8 H3111.2 V1649.4 H3113.2 V1646.2 H3115.2 V1636.7 H3117.2 V1640.1 H3119.2 V1642.9 H3121.2 V1654.3 H3123.2 V1654.1 H3125.2 V1659.7 H3127.2 V1649.3 H3129.2 V1647.9 H3131.2 V1637.9 H3133.2 V1636.8 H3135.2 V1630.2 H3137.2 V1636.2 H3139.2 V1640.1 H3141.2 V1648.4 H3143.2 V1641.2 H3145.2 V1634.7 H3147.2 V1626.9 H3149.2 V1624.5 H3151.2 V1605.4 H3153.2 V1600.2 H3155.2 V1588.4 H3157.2 V1579.3 H3159.2 V1580.6 H3161.2 V1581.4 H3163.2 V1586.1 H3165.2 V1582.5 H3167.2 V1569 H3169.2 V1569.6 H3171.2 V1566.6 H3173.2 V1563.5 H3175.2 V1552.3 H3177.2 V1508.7 H3179.2 V1482.2 H3181.2 V1460.4 H3183.2 V1451.8 H3185.2 V1442.4 H3187.2 V1439.8 H3189.2 V1428.4 H3191.2 V1422.2 H3193.2 V1438.9 H3195.2 V1440.1 H3197.2 V1441.9 H3199.2 V1437.2 H3201.2 V1432.1 H3203.2 V1418.1 H3205.2 V1411.5 H3207.2 V1410 H3209.2 V1404.3 H3211.2 V1403 H3213.2 V1385 H3215.2 V1382.6 H3217.2 V1386.4 H3219.2 V1384 H3221.2 V1376.8 H3223.2 V1364.9 H3225.2 V1370 H3227.2 V1385.9 H3229.2 V1384.7 H3231.2 V1388.8 H3233.2 V1397.9 H3235.2 V1420 H3237.2 V1434.8 H3239.2 V1439.7 H3241.2 V1431.7 H3243.2 V1422 H3245.2 V1408.8 H3247.2 V1384.4 H3249.2 V1373.7 H3251.2 V1359 H3253.2 V1346.1 H3255.2 V1348.7 H3257.2 V1348.5 H3259.2 V1358.2 H3261.2 V1379.4 H3263.2 V1380.1 H3265.2 V1385.7 H3267.2 V1376.3 H3269.2 V1373.3 H3271.2 V1369.7 H3273.2 V1379.8 H3275.2 V1384 H3277.2 V1382.4 H3279.2 V1388.6 H3281.2 V1393 H3283.2 V1404.3 H3285.2 V1407.3 H3287.2 V1401.7 H3289.2 V1398 H3291.2 V1406 H3293.2 V1410.7 H3295.2 V1415.2 H3297.2 V1408.2 H3299.2 V1393 H3301.2 V1386.9 H3303.2 V1384.3 H3305.2 V1379.4 H3307.2 V1392.7 H3309.2 V1410.2 H3311.2 V1430.3 H3312 V1738.5 Z" fill="#334d9f"/>
<rect x="2837.9" y="1317.4" width="10.5" height="42.5" fill="#6e6d72"/>
<rect x="2837.9" y="1392.9" width="10.5" height="42.5" fill="#6e6d72"/>
<rect x="2837.9" y="1468.4" width="10.5" height="42.5" fill="#6e6d72"/>
<rect x="2837.9" y="1543.9" width="10.5" height="42.5" fill="#6e6d72"/>
<rect x="2837.9" y="1619.4" width="10.5" height="42.5" fill="#6e6d72"/>
<rect x="2837.9" y="1694.9" width="10.5" height="37.7" fill="#6e6d72"/>
<rect x="2887.2" y="1317.4" width="10.5" height="42.5" fill="#e6a528"/>
<rect x="2887.2" y="1392.9" width="10.5" height="42.5" fill="#e6a528"/>
<rect x="2887.2" y="1468.4" width="10.5" height="42.5" fill="#e6a528"/>
<rect x="2887.2" y="1543.9" width="10.5" height="42.5" fill="#e6a528"/>
<rect x="2887.2" y="1619.4" width="10.5" height="42.5" fill="#e6a528"/>
<rect x="2887.2" y="1694.9" width="10.5" height="37.7" fill="#e6a528"/>
<rect x="3146.6" y="1317.4" width="10.5" height="42.5" fill="#e6a528"/>
<rect x="3146.6" y="1392.9" width="10.5" height="42.5" fill="#e6a528"/>
<rect x="3146.6" y="1468.4" width="10.5" height="42.5" fill="#e6a528"/>
<rect x="3146.6" y="1543.9" width="10.5" height="42.5" fill="#e6a528"/>
<rect x="3146.6" y="1619.4" width="10.5" height="42.5" fill="#e6a528"/>
<rect x="3146.6" y="1694.9" width="10.5" height="37.7" fill="#e6a528"/>
<rect x="3216.5" y="1317.4" width="10.5" height="42.5" fill="#6e6d72"/>
<rect x="3216.5" y="1392.9" width="10.5" height="42.5" fill="#6e6d72"/>
<rect x="3216.5" y="1468.4" width="10.5" height="42.5" fill="#6e6d72"/>
<rect x="3216.5" y="1543.9" width="10.5" height="42.5" fill="#6e6d72"/>
<rect x="3216.5" y="1619.4" width="10.5" height="42.5" fill="#6e6d72"/>
<rect x="3216.5" y="1694.9" width="10.5" height="37.7" fill="#6e6d72"/>
<rect x="2741.2" y="1275.9" width="570.8" height="462.6" fill="none" stroke="#231815" stroke-width="2.8"/>
<path d="M2741.2 1688.1h13 M2741.2 1638.5h13 M2741.2 1588.5h13 M2741.2 1538.5h13 M2741.2 1488.9h13 M2741.2 1439.3h13 M2741.2 1389.2h13 M2741.2 1339.6h13 M2741.2 1289.6h13 M2830.3 1738.5v-13 M2919 1738.5v-13 M3006.9 1738.5v-13 M3095.2 1738.5v-13 M3183.1 1738.5v-13 M3271.8 1738.5v-13" stroke="#231815" stroke-width="2.8" fill="none"/>
<g font-size="56" text-anchor="end">
<text x="2725.1" y="1702.7">20</text>
<text x="2725.1" y="1653.1">40</text>
<text x="2725.1" y="1603.1">60</text>
<text x="2725.1" y="1553.1">80</text>
<text x="2725.1" y="1503.5">100</text>
<text x="2725.1" y="1453.9">120</text>
<text x="2725.1" y="1403.8">140</text>
<text x="2725.1" y="1354.2">160</text>
<text x="2725.1" y="1304.2">180</text>
<text x="2725.1" y="1752.7">0</text>
</g>
<g font-size="56" text-anchor="middle">
<text x="2830.3" y="1796.7">10</text>
<text x="2919" y="1796.7">20</text>
<text x="3006.9" y="1796.7">30</text>
<text x="3095.2" y="1796.7">40</text>
<text x="3183.1" y="1796.7">50</text>
<text x="3271.8" y="1796.7">60</text>
</g>
<text x="3024.6" y="1869" font-size="54.5" text-anchor="middle">距离/μm</text>
<text transform="translate(2606.8 1507.2) rotate(-90)" font-size="54.5" text-anchor="middle">强度</text>
<text x="2860.8" y="1317.4" font-size="56" text-anchor="middle">a</text>
<text x="3013.1" y="1317.4" font-size="56" text-anchor="middle">b</text>
<text x="3181.9" y="1317.4" font-size="56" text-anchor="middle">c</text>
<text x="3269" y="1327.9" font-size="56" text-anchor="middle">Ca</text>
</g>
<g id="O0">
<path d="M215.3 2433.7 L215.3 2343.1 L220 2341.9 L232.9 2352.1 L246.6 2325.5 L257.5 2300.9 L270 2341.9 L281 2325.5 L293.5 2295 L306.4 2305.2 L317.7 2260.3 L329.8 2362.6 L340.4 2335.3 L352.9 2318.5 L365.8 2335.3 L378.7 2347 L390.4 2371.6 L402.9 2347 L414.6 2362.6 L426.3 2341.1 L437.3 2323.6 L449 2331.4 L460.7 2251.3 L473.2 2296.2 L486.9 2315.7 L497.4 2282.5 L510.3 2278.6 L524 2316.5 L534.9 2311.8 L545.5 2276.7 L557.2 2251.3 L568.9 2204.4 L583.8 2104 L594.3 2216.1 L606.8 2275.9 L618.9 2231.7 L625.6 2302.1 L633.4 2350.9 L643.2 2382.2 L656.1 2247.4 L680.3 2237.6 L692 2280.6 L703.7 2354.8 L713.5 2317.7 L726.4 2317.7 L738.9 2311.8 L750.6 2315.7 L764.3 2327.5 L778 2302.1 L785 2296.2 L785 2433.7 Z" fill="#63b534"/>
<rect x="463.7" y="2014.9" width="10.5" height="42.5" fill="#6e6d72"/>
<rect x="463.7" y="2090.4" width="10.5" height="42.5" fill="#6e6d72"/>
<rect x="463.7" y="2165.9" width="10.5" height="42.5" fill="#6e6d72"/>
<rect x="463.7" y="2241.4" width="10.5" height="42.5" fill="#6e6d72"/>
<rect x="463.7" y="2316.9" width="10.5" height="42.5" fill="#6e6d72"/>
<rect x="463.7" y="2392.4" width="10.5" height="35.3" fill="#6e6d72"/>
<rect x="492.2" y="2014.9" width="10.5" height="42.5" fill="#e6a528"/>
<rect x="492.2" y="2090.4" width="10.5" height="42.5" fill="#e6a528"/>
<rect x="492.2" y="2165.9" width="10.5" height="42.5" fill="#e6a528"/>
<rect x="492.2" y="2241.4" width="10.5" height="42.5" fill="#e6a528"/>
<rect x="492.2" y="2316.9" width="10.5" height="42.5" fill="#e6a528"/>
<rect x="492.2" y="2392.4" width="10.5" height="35.3" fill="#e6a528"/>
<rect x="546.5" y="2014.9" width="10.5" height="42.5" fill="#6e6d72"/>
<rect x="546.5" y="2090.4" width="10.5" height="42.5" fill="#6e6d72"/>
<rect x="546.5" y="2165.9" width="10.5" height="42.5" fill="#6e6d72"/>
<rect x="546.5" y="2241.4" width="10.5" height="42.5" fill="#6e6d72"/>
<rect x="546.5" y="2316.9" width="10.5" height="42.5" fill="#6e6d72"/>
<rect x="546.5" y="2392.4" width="10.5" height="35.3" fill="#6e6d72"/>
<rect x="215.3" y="1970" width="569.6" height="463.8" fill="none" stroke="#231815" stroke-width="2.8"/>
<path d="M215.3 2317.7h13 M215.3 2202.4h13 M215.3 2086.4h13 M310.7 2433.7v-13 M405.2 2433.7v-13 M499.8 2433.7v-13 M594.7 2433.7v-13 M689.7 2433.7v-13" stroke="#231815" stroke-width="2.8" fill="none"/>
<g font-size="56" text-anchor="end">
<text x="196.9" y="2332.3">20</text>
<text x="196.9" y="2217">40</text>
<text x="196.9" y="2101">60</text>
<text x="196.9" y="2448.3">0</text>
<text x="196.9" y="1984.6">80</text>
</g>
<g font-size="56" text-anchor="middle">
<text x="215.3" y="2494.3">420</text>
<text x="310.7" y="2494.3">440</text>
<text x="405.2" y="2494.3">460</text>
<text x="499.8" y="2494.3">480</text>
<text x="594.7" y="2494.3">500</text>
<text x="689.7" y="2494.3">520</text>
<text x="785" y="2494.3">540</text>
</g>
<text x="498.2" y="2563.8" font-size="54.5" text-anchor="middle">距离/μm</text>
<text transform="translate(83.7 2201.9) rotate(-90)" font-size="54.5" text-anchor="middle">强度</text>
<text x="479.1" y="2009" font-size="56" text-anchor="middle">a</text>
<text x="529.1" y="2009" font-size="56" text-anchor="middle">c</text>
<text x="719.3" y="2018.8" font-size="56" text-anchor="middle">O</text>
</g>
<g id="O3">
<path d="M1069.5 2433.7 V2269.1 H1071.5 V2258.9 H1073.5 V2277.5 H1075.5 V2274.5 H1077.5 V2294.5 H1079.5 V2308.4 H1081.5 V2296.6 H1083.5 V2291 H1085.5 V2278.3 H1087.5 V2299 H1089.5 V2278.7 H1091.5 V2301.5 H1093.5 V2282.2 H1095.5 V2280.3 H1097.5 V2280 H1099.5 V2313.9 H1101.5 V2331.9 H1103.5 V2360.8 H1105.5 V2339.4 H1107.5 V2341 H1109.5 V2359.4 H1111.5 V2334.4 H1113.5 V2313 H1115.5 V2300.1 H1117.5 V2294.1 H1119.5 V2315.3 H1121.5 V2311.6 H1123.5 V2348.9 H1125.5 V2349.5 H1127.5 V2359.3 H1129.5 V2362.4 H1131.5 V2334.8 H1133.5 V2303.1 H1135.5 V2305 H1137.5 V2346.5 H1139.5 V2379.4 H1141.5 V2386.8 H1143.5 V2365.9 H1145.5 V2379.6 H1147.5 V2366.8 H1149.5 V2354 H1151.5 V2326.6 H1153.5 V2353.7 H1155.5 V2378.4 H1157.5 V2369.6 H1159.5 V2333.4 H1161.5 V2350.5 H1163.5 V2332.1 H1165.5 V2318.9 H1167.5 V2324.2 H1169.5 V2314.8 H1171.5 V2338.2 H1173.5 V2345.4 H1175.5 V2316.9 H1177.5 V2309 H1179.5 V2287.1 H1181.5 V2281.6 H1183.5 V2275.2 H1185.5 V2264 H1187.5 V2267.2 H1189.5 V2297.1 H1191.5 V2346.4 H1193.5 V2298.7 H1195.5 V2259.4 H1197.5 V2258.2 H1199.5 V2265.6 H1201.5 V2228.6 H1203.5 V2295 H1205.5 V2301.5 H1207.5 V2307.6 H1209.5 V2304.9 H1211.5 V2295.4 H1213.5 V2276.9 H1215.5 V2281.6 H1217.5 V2284.4 H1219.5 V2281.6 H1221.5 V2234.5 H1223.5 V2223.4 H1225.5 V2220.8 H1227.5 V2227.7 H1229.5 V2265.4 H1231.5 V2226.1 H1233.5 V2274.8 H1235.5 V2282.6 H1237.5 V2300.7 H1239.5 V2305.6 H1241.5 V2304 H1243.5 V2310.4 H1245.5 V2302.8 H1247.5 V2330.2 H1249.5 V2342.4 H1251.5 V2341.5 H1253.5 V2337.8 H1255.5 V2313.2 H1257.5 V2293.3 H1259.5 V2291.8 H1261.5 V2254.6 H1263.5 V2259.3 H1265.5 V2205.9 H1267.5 V2203.6 H1269.5 V2156.4 H1271.5 V2182.9 H1273.5 V2226.2 H1275.5 V2256.4 H1277.5 V2289.3 H1279.5 V2296.1 H1281.5 V2322.9 H1283.5 V2374.6 H1285.5 V2349.8 H1287.5 V2387.3 H1289.5 V2350.8 H1291.5 V2314.2 H1293.5 V2293.6 H1295.5 V2357.8 H1297.5 V2385.9 H1299.5 V2384.2 H1301.5 V2382.2 H1303.5 V2342.9 H1305.5 V2326.2 H1307.5 V2330.3 H1309.5 V2305 H1311.5 V2311.2 H1313.5 V2265 H1315.5 V2282.8 H1317.5 V2248.1 H1319.5 V2205.2 H1321.5 V2231.9 H1323.5 V2268.2 H1325.5 V2306.7 H1327.5 V2319.1 H1329.5 V2333.4 H1331.5 V2349.8 H1333.5 V2336.8 H1335.5 V2322.4 H1337.5 V2326.9 H1339.5 V2318.6 H1341.5 V2314 H1343.5 V2316.9 H1345.5 V2346.2 H1347.5 V2291.6 H1349.5 V2289.1 H1351.5 V2270.5 H1353.5 V2300.9 H1355.5 V2352.5 H1357.5 V2307.5 H1359.5 V2316.7 H1361.5 V2312.2 H1363.5 V2316.7 H1365.5 V2350.3 H1367.5 V2356.1 H1369.5 V2312.8 H1371.5 V2272.7 H1373.5 V2242.5 H1375.5 V2249.5 H1377.5 V2310.2 H1379.5 V2308.7 H1381.5 V2293.5 H1383.5 V2242.8 H1385.5 V2240.3 H1387.5 V2218.7 H1389.5 V2217.9 H1391.5 V2244.1 H1393.5 V2259.4 H1395.5 V2258.5 H1397.5 V2252 H1399.5 V2254.5 H1401.5 V2195.8 H1403.5 V2203.5 H1405.5 V2242.2 H1407.5 V2312.4 H1409.5 V2335.9 H1411.5 V2316.5 H1413.5 V2275.6 H1415.5 V2247.5 H1417.5 V2199.8 H1419.5 V2169.5 H1421.5 V2172.5 H1423.5 V2223.7 H1425.5 V2204.3 H1427.5 V2201.2 H1429.5 V2147.7 H1431.5 V2091.1 H1433.5 V2130.9 H1435.5 V2186.5 H1437.5 V2187.5 H1439.5 V2216.2 H1441.5 V2197.4 H1443.5 V2255.6 H1445.5 V2272.8 H1447.5 V2299.9 H1449.5 V2280.2 H1451.5 V2308.9 H1453.5 V2308.4 H1455.5 V2262.9 H1457.5 V2200.1 H1459.5 V2175.4 H1461.5 V2182 H1463.5 V2239.1 H1465.5 V2273.5 H1467.5 V2316.9 H1469.5 V2294.4 H1471.5 V2357.4 H1473.5 V2335.7 H1475.5 V2325.5 H1477.5 V2322.3 H1479.5 V2309.2 H1481.5 V2270.9 H1483.5 V2310.2 H1485.5 V2282 H1487.5 V2262.8 H1489.5 V2246.3 H1491.5 V2220.3 H1493.5 V2226.7 H1495.5 V2205.5 H1497.5 V2209.5 H1499.5 V2227.7 H1501.5 V2219.1 H1503.5 V2231.5 H1505.5 V2210.5 H1507.5 V2234.1 H1509.5 V2247 H1511.5 V2299.2 H1513.5 V2319.6 H1515.5 V2373.8 H1517.5 V2342.5 H1519.5 V2316.4 H1521.5 V2269.5 H1523.5 V2266.3 H1525.5 V2236.1 H1527.5 V2254.6 H1529.5 V2178 H1531.5 V2090 H1533.5 V2126.4 H1535.5 V2132.2 H1537.5 V2064.1 H1539.5 V2015.4 H1541.5 V2046.7 H1543.5 V2120.7 H1545.5 V2229.1 H1547.5 V2306.3 H1549.5 V2351.5 H1551.5 V2369 H1553.5 V2368.2 H1555.5 V2355.8 H1557.5 V2308.9 H1559.5 V2290.8 H1561.5 V2289.5 H1563.5 V2284.9 H1565.5 V2273.8 H1567.5 V2323 H1569.5 V2322.3 H1571.5 V2285.5 H1573.5 V2306.3 H1575.5 V2332.9 H1577.5 V2328.2 H1579.5 V2366.3 H1581.5 V2345.6 H1583.5 V2364.3 H1585.5 V2320.3 H1587.5 V2337.1 H1589.5 V2369.9 H1591.5 V2382.2 H1593.5 V2389.3 H1595.5 V2396.4 H1597.5 V2366.2 H1599.5 V2357 H1601.5 V2299.7 H1603.5 V2267.5 H1605.5 V2208.9 H1607.5 V2185 H1609.5 V2261.1 H1611.5 V2341.4 H1613.5 V2310.9 H1615.5 V2235.7 H1617.5 V2231.4 H1619.5 V2168.9 H1621.5 V2118.2 H1623.5 V2099.5 H1625.5 V2078.5 H1627.5 V2121.5 H1629.5 V2119.2 H1631.5 V2161.5 H1633.5 V2151.1 H1635.5 V2173.1 H1637.5 V2180.8 H1639.1 V2433.7 Z" fill="#63b534"/>
<rect x="1235.4" y="2011" width="10.5" height="42.5" fill="#6e6d72"/>
<rect x="1235.4" y="2086.5" width="10.5" height="42.5" fill="#6e6d72"/>
<rect x="1235.4" y="2162" width="10.5" height="42.5" fill="#6e6d72"/>
<rect x="1235.4" y="2237.5" width="10.5" height="42.5" fill="#6e6d72"/>
<rect x="1235.4" y="2313" width="10.5" height="42.5" fill="#6e6d72"/>
<rect x="1235.4" y="2388.5" width="10.5" height="39.2" fill="#6e6d72"/>
<rect x="1275.6" y="2011" width="10.5" height="42.5" fill="#e6a528"/>
<rect x="1275.6" y="2086.5" width="10.5" height="42.5" fill="#e6a528"/>
<rect x="1275.6" y="2162" width="10.5" height="42.5" fill="#e6a528"/>
<rect x="1275.6" y="2237.5" width="10.5" height="42.5" fill="#e6a528"/>
<rect x="1275.6" y="2313" width="10.5" height="42.5" fill="#e6a528"/>
<rect x="1275.6" y="2388.5" width="10.5" height="39.2" fill="#e6a528"/>
<rect x="1327.2" y="2011" width="10.5" height="42.5" fill="#e6a528"/>
<rect x="1327.2" y="2086.5" width="10.5" height="42.5" fill="#e6a528"/>
<rect x="1327.2" y="2162" width="10.5" height="42.5" fill="#e6a528"/>
<rect x="1327.2" y="2237.5" width="10.5" height="42.5" fill="#e6a528"/>
<rect x="1327.2" y="2313" width="10.5" height="42.5" fill="#e6a528"/>
<rect x="1327.2" y="2388.5" width="10.5" height="39.2" fill="#e6a528"/>
<rect x="1384.6" y="2011" width="10.5" height="42.5" fill="#6e6d72"/>
<rect x="1384.6" y="2086.5" width="10.5" height="42.5" fill="#6e6d72"/>
<rect x="1384.6" y="2162" width="10.5" height="42.5" fill="#6e6d72"/>
<rect x="1384.6" y="2237.5" width="10.5" height="42.5" fill="#6e6d72"/>
<rect x="1384.6" y="2313" width="10.5" height="42.5" fill="#6e6d72"/>
<rect x="1384.6" y="2388.5" width="10.5" height="39.2" fill="#6e6d72"/>
<rect x="1069.5" y="1970" width="569.6" height="463.8" fill="none" stroke="#231815" stroke-width="2.8"/>
<path d="M1069.5 2340.4h13 M1069.5 2248.2h13 M1069.5 2155.6h13 M1069.5 2063.4h13 M1175.8 2433.7v-13 M1281.2 2433.7v-13 M1387.1 2433.7v-13 M1492.6 2433.7v-13 M1598.9 2433.7v-13" stroke="#231815" stroke-width="2.8" fill="none"/>
<g font-size="56" text-anchor="end">
<text x="1049.1" y="2355">10</text>
<text x="1049.1" y="2262.8">20</text>
<text x="1049.1" y="2170.2">30</text>
<text x="1049.1" y="2078">40</text>
<text x="1049.1" y="2448.3">0</text>
<text x="1049.1" y="1984.6">50</text>
</g>
<g font-size="56" text-anchor="middle">
<text x="1069.5" y="2494.3">0</text>
<text x="1175.8" y="2494.3">20</text>
<text x="1281.2" y="2494.3">40</text>
<text x="1387.1" y="2494.3">60</text>
<text x="1492.6" y="2494.3">80</text>
<text x="1598.9" y="2494.3">100</text>
</g>
<text x="1352.3" y="2563.8" font-size="54.5" text-anchor="middle">距离/μm</text>
<text transform="translate(946.8 2201.9) rotate(-90)" font-size="54.5" text-anchor="middle">强度/a.u.</text>
<text x="1259" y="2013" font-size="56" text-anchor="middle">a</text>
<text x="1311.7" y="2013" font-size="56" text-anchor="middle">b</text>
<text x="1363.7" y="2013" font-size="56" text-anchor="middle">c</text>
<text x="1590.3" y="2018.8" font-size="56" text-anchor="middle">O</text>
</g>
<g id="O6">
<path d="M1901.4 2434.1 V2236.3 H1903.4 V2245 H1905.4 V2208.2 H1907.4 V2261.1 H1909.4 V2305.1 H1911.4 V2310.2 H1913.4 V2317.1 H1915.4 V2328.9 H1917.4 V2336.4 H1919.4 V2303.6 H1921.4 V2319.9 H1923.4 V2322.8 H1925.4 V2390.9 H1927.4 V2404.4 H1929.4 V2408.1 H1931.4 V2421.9 H1933.4 V2409.7 H1935.4 V2395.3 H1937.4 V2353.4 H1939.4 V2340.8 H1941.4 V2301 H1943.4 V2279.6 H1945.4 V2259.7 H1947.4 V2303.5 H1949.4 V2320.2 H1951.4 V2296.2 H1953.4 V2210.2 H1955.4 V2231.5 H1957.4 V2198.5 H1959.4 V2213.9 H1961.4 V2188.2 H1963.4 V2226.3 H1965.4 V2225.6 H1967.4 V2230.1 H1969.4 V2239.2 H1971.4 V2248.3 H1973.4 V2243.9 H1975.4 V2260.2 H1977.4 V2274.1 H1979.4 V2295.1 H1981.4 V2304.8 H1983.4 V2283 H1985.4 V2266.7 H1987.4 V2263 H1989.4 V2253.4 H1991.4 V2232.5 H1993.4 V2228.7 H1995.4 V2290.6 H1997.4 V2295 H1999.4 V2306.9 H2001.4 V2338.2 H2003.4 V2338.3 H2005.4 V2349.9 H2007.4 V2356.1 H2009.4 V2382.2 H2011.4 V2363.7 H2013.4 V2362.6 H2015.4 V2335.3 H2017.4 V2332.1 H2019.4 V2310.6 H2021.4 V2306.3 H2023.4 V2291.1 H2025.4 V2287.2 H2027.4 V2300.9 H2029.4 V2276.2 H2031.4 V2251.4 H2033.4 V2209.4 H2035.4 V2257 H2037.4 V2295 H2039.4 V2322.2 H2041.4 V2373.7 H2043.4 V2321.9 H2045.4 V2296.3 H2047.4 V2267 H2049.4 V2292.7 H2051.4 V2297.7 H2053.4 V2304.8 H2055.4 V2220.7 H2057.4 V2182.8 H2059.4 V2165.1 H2061.4 V2166 H2063.4 V2172.3 H2065.4 V2139.3 H2067.4 V2148.3 H2069.4 V2092.8 H2071.4 V2121.4 H2073.4 V2202.1 H2075.4 V2211.9 H2077.4 V2226.7 H2079.4 V2241.8 H2081.4 V2226.5 H2083.4 V2232.6 H2085.4 V2251.9 H2087.4 V2242.9 H2089.4 V2228.4 H2091.4 V2262.3 H2093.4 V2271 H2095.4 V2260.9 H2097.4 V2284.9 H2099.4 V2305.6 H2101.4 V2301 H2103.4 V2307.5 H2105.4 V2323 H2107.4 V2334.3 H2109.4 V2299.6 H2111.4 V2280.9 H2113.4 V2299.7 H2115.4 V2291.2 H2117.4 V2279.2 H2119.4 V2301.7 H2121.4 V2304 H2123.4 V2332.6 H2125.4 V2330.9 H2127.4 V2350.7 H2129.4 V2375.6 H2131.4 V2372.7 H2133.4 V2389.3 H2135.4 V2371.6 H2137.4 V2359.3 H2139.4 V2369.9 H2141.4 V2360 H2143.4 V2360.3 H2145.4 V2353.9 H2147.4 V2373.1 H2149.4 V2341.8 H2151.4 V2318.6 H2153.4 V2258.7 H2155.4 V2266.3 H2157.4 V2280.1 H2159.4 V2322 H2161.4 V2321.1 H2163.4 V2352.6 H2165.4 V2328.6 H2167.4 V2365.3 H2169.4 V2336 H2171.4 V2335.2 H2173.4 V2325.5 H2175.4 V2315.3 H2177.4 V2319 H2179.4 V2344.5 H2181.4 V2326.6 H2183.4 V2335.6 H2185.4 V2324.5 H2187.4 V2337.4 H2189.4 V2302.7 H2191.4 V2305.3 H2193.4 V2278.6 H2195.4 V2294.3 H2197.4 V2285.5 H2199.4 V2271.6 H2201.4 V2290.5 H2203.4 V2282.6 H2205.4 V2280.6 H2207.4 V2282.7 H2209.4 V2293.1 H2211.4 V2315.3 H2213.4 V2337.8 H2215.4 V2344.4 H2217.4 V2359.5 H2219.4 V2363.7 H2221.4 V2351.2 H2223.4 V2318.9 H2225.4 V2316.6 H2227.4 V2315.1 H2229.4 V2288.9 H2231.4 V2309.5 H2233.4 V2309.3 H2235.4 V2305.7 H2237.4 V2243 H2239.4 V2206.5 H2241.4 V2199.5 H2243.4 V2194.7 H2245.4 V2174.8 H2247.4 V2096.4 H2249.4 V2058.6 H2251.4 V2056.6 H2253.4 V2091.1 H2255.4 V2105.4 H2257.4 V2104.7 H2259.4 V2179.6 H2261.4 V2232.8 H2263.4 V2276 H2265.4 V2245.4 H2267.4 V2195.4 H2269.4 V2133.9 H2271.4 V2162.4 H2273.4 V2157.6 H2275.4 V2223.6 H2277.4 V2259 H2279.4 V2274.6 H2281.4 V2267.9 H2283.4 V2274.1 H2285.4 V2313.3 H2287.4 V2315.6 H2289.4 V2332.2 H2291.4 V2349.2 H2293.4 V2382.4 H2295.4 V2338.3 H2297.4 V2342.4 H2299.4 V2398.7 H2301.4 V2379.3 H2303.4 V2344.4 H2305.4 V2351.8 H2307.4 V2337.7 H2309.4 V2355.5 H2311.4 V2361.7 H2313.4 V2373.4 H2315.4 V2317 H2317.4 V2295.1 H2319.4 V2268.7 H2321.4 V2235.4 H2323.4 V2204.4 H2325.4 V2190.4 H2327.4 V2281.9 H2329.4 V2271.4 H2331.4 V2267.4 H2333.4 V2258.9 H2335.4 V2220.4 H2337.4 V2213.1 H2339.4 V2236.6 H2341.4 V2271.2 H2343.4 V2294 H2345.4 V2347.8 H2347.4 V2381.6 H2349.4 V2382.4 H2351.4 V2365.5 H2353.4 V2347.6 H2355.4 V2376.5 H2357.4 V2371.1 H2359.4 V2336.2 H2361.4 V2377.3 H2363.4 V2352.4 H2365.4 V2323.2 H2367.4 V2358.3 H2369.4 V2361.4 H2371.4 V2344 H2373.4 V2342.8 H2375.4 V2329.8 H2377.4 V2308.9 H2379.4 V2297.3 H2381.4 V2325.2 H2383.4 V2343.5 H2385.4 V2371.9 H2387.4 V2331.3 H2389.4 V2326.8 H2391.4 V2289.1 H2393.4 V2318.3 H2395.4 V2318.1 H2397.4 V2352.2 H2399.4 V2363.2 H2401.4 V2361.6 H2403.4 V2329.1 H2405.4 V2327.8 H2407.4 V2315.8 H2409.4 V2284.7 H2411.4 V2286.5 H2413.4 V2274.4 H2415.4 V2287.5 H2417.4 V2311.5 H2419.4 V2319.8 H2421.4 V2303.9 H2423.4 V2311.3 H2425.4 V2309.9 H2427.4 V2264.3 H2429.4 V2263.8 H2431.4 V2236.3 H2433.4 V2273.2 H2435.4 V2305.6 H2437.4 V2313.8 H2439.4 V2298.1 H2441.4 V2292.7 H2443.4 V2320.8 H2445.4 V2314.9 H2447.4 V2288.3 H2449.4 V2321.2 H2451.4 V2319.8 H2453.4 V2344.4 H2455.4 V2318.2 H2457.4 V2283.3 H2459.4 V2247 H2461.4 V2267.4 H2463.4 V2295.9 H2465.4 V2303.8 H2467.4 V2293.8 H2469.4 V2316.5 H2471.1 V2434.1 Z" fill="#63b534"/>
<rect x="2082.2" y="2014.9" width="10.5" height="42.5" fill="#6e6d72"/>
<rect x="2082.2" y="2090.4" width="10.5" height="42.5" fill="#6e6d72"/>
<rect x="2082.2" y="2165.9" width="10.5" height="42.5" fill="#6e6d72"/>
<rect x="2082.2" y="2241.4" width="10.5" height="42.5" fill="#6e6d72"/>
<rect x="2082.2" y="2316.9" width="10.5" height="42.5" fill="#6e6d72"/>
<rect x="2082.2" y="2392.4" width="10.5" height="35.7" fill="#6e6d72"/>
<rect x="2122.8" y="2014.9" width="10.5" height="42.5" fill="#e6a528"/>
<rect x="2122.8" y="2090.4" width="10.5" height="42.5" fill="#e6a528"/>
<rect x="2122.8" y="2165.9" width="10.5" height="42.5" fill="#e6a528"/>
<rect x="2122.8" y="2241.4" width="10.5" height="42.5" fill="#e6a528"/>
<rect x="2122.8" y="2316.9" width="10.5" height="42.5" fill="#e6a528"/>
<rect x="2122.8" y="2392.4" width="10.5" height="35.7" fill="#e6a528"/>
<rect x="2188.4" y="2014.9" width="10.5" height="42.5" fill="#e6a528"/>
<rect x="2188.4" y="2090.4" width="10.5" height="42.5" fill="#e6a528"/>
<rect x="2188.4" y="2165.9" width="10.5" height="42.5" fill="#e6a528"/>
<rect x="2188.4" y="2241.4" width="10.5" height="42.5" fill="#e6a528"/>
<rect x="2188.4" y="2316.9" width="10.5" height="42.5" fill="#e6a528"/>
<rect x="2188.4" y="2392.4" width="10.5" height="35.7" fill="#e6a528"/>
<rect x="2257.2" y="2014.9" width="10.5" height="42.5" fill="#6e6d72"/>
<rect x="2257.2" y="2090.4" width="10.5" height="42.5" fill="#6e6d72"/>
<rect x="2257.2" y="2165.9" width="10.5" height="42.5" fill="#6e6d72"/>
<rect x="2257.2" y="2241.4" width="10.5" height="42.5" fill="#6e6d72"/>
<rect x="2257.2" y="2316.9" width="10.5" height="42.5" fill="#6e6d72"/>
<rect x="2257.2" y="2392.4" width="10.5" height="35.7" fill="#6e6d72"/>
<rect x="1901.4" y="1970" width="569.6" height="464.1" fill="none" stroke="#231815" stroke-width="2.8"/>
<path d="M1901.4 2356.8h13 M1901.4 2279.8h13 M1901.4 2202.8h13 M1901.4 2125.5h13 M1901.4 2047.3h13 M1965.9 2434.1v-13 M2030.4 2434.1v-13 M2095.6 2434.1v-13 M2160.5 2434.1v-13 M2224.9 2434.1v-13 M2289.8 2434.1v-13 M2354.7 2434.1v-13 M2419.1 2434.1v-13" stroke="#231815" stroke-width="2.8" fill="none"/>
<g font-size="56" text-anchor="end">
<text x="1883" y="2371.4">5</text>
<text x="1883" y="2294.4">10</text>
<text x="1883" y="2217.4">15</text>
<text x="1883" y="2140.1">20</text>
<text x="1883" y="2061.9">25</text>
<text x="1883" y="2448.7">0</text>
<text x="1883" y="1984.6">30</text>
</g>
<g font-size="56" text-anchor="middle">
<text x="1901.4" y="2491.6">0</text>
<text x="1965.9" y="2491.6">10</text>
<text x="2030.4" y="2491.6">20</text>
<text x="2095.6" y="2491.6">30</text>
<text x="2160.5" y="2491.6">40</text>
<text x="2224.9" y="2491.6">50</text>
<text x="2289.8" y="2491.6">60</text>
<text x="2354.7" y="2491.6">70</text>
<text x="2419.1" y="2491.6">80</text>
</g>
<text x="2184.3" y="2567.7" font-size="54.5" text-anchor="middle">距离/μm</text>
<text transform="translate(1782.7 2202.1) rotate(-90)" font-size="54.5" text-anchor="middle">强度</text>
<text x="2111.2" y="2009" font-size="56" text-anchor="middle">a</text>
<text x="2169.9" y="2009" font-size="56" text-anchor="middle">b</text>
<text x="2227.7" y="2009" font-size="56" text-anchor="middle">c</text>
<text x="2430.8" y="2020.8" font-size="56" text-anchor="middle">O</text>
</g>
<g id="O9">
<path d="M2733.8 2419.3 V2258.9 H2735.8 V2271.2 H2737.8 V2275.6 H2739.8 V2263.2 H2741.8 V2297.3 H2743.8 V2316 H2745.8 V2307.4 H2747.8 V2324.6 H2749.8 V2325.7 H2751.8 V2350.9 H2753.8 V2358.3 H2755.8 V2357.4 H2757.8 V2374 H2759.8 V2380.7 H2761.8 V2329.1 H2763.8 V2334.1 H2765.8 V2315.3 H2767.8 V2315 H2769.8 V2357.2 H2771.8 V2336.8 H2773.8 V2341.5 H2775.8 V2353.9 H2777.8 V2346.1 H2779.8 V2323.4 H2781.8 V2282.2 H2783.8 V2238.7 H2785.8 V2229.1 H2787.8 V2248.8 H2789.8 V2232.4 H2791.8 V2225.6 H2793.8 V2227 H2795.8 V2197.4 H2797.8 V2227 H2799.8 V2266.6 H2801.8 V2230.5 H2803.8 V2279 H2805.8 V2296.3 H2807.8 V2283.4 H2809.8 V2284.6 H2811.8 V2314.8 H2813.8 V2323.7 H2815.8 V2334.1 H2817.8 V2300.3 H2819.8 V2317.2 H2821.8 V2313.6 H2823.8 V2308.1 H2825.8 V2285.2 H2827.8 V2286.7 H2829.8 V2281.4 H2831.8 V2300.9 H2833.8 V2302.7 H2835.8 V2286.4 H2837.8 V2266.3 H2839.8 V2284.5 H2841.8 V2280.5 H2843.8 V2307 H2845.8 V2337.9 H2847.8 V2374.2 H2849.8 V2351 H2851.8 V2333.2 H2853.8 V2334.9 H2855.8 V2325.5 H2857.8 V2309.5 H2859.8 V2286.1 H2861.8 V2317.5 H2863.8 V2311.8 H2865.8 V2308.6 H2867.8 V2288.6 H2869.8 V2322 H2871.8 V2374.1 H2873.8 V2353.3 H2875.8 V2341.2 H2877.8 V2347.8 H2879.8 V2352.8 H2881.8 V2345.6 H2883.8 V2324 H2885.8 V2332.8 H2887.8 V2382.2 H2889.8 V2387.9 H2891.8 V2412.3 H2893.8 V2393.7 H2895.8 V2382.5 H2897.8 V2369.4 H2899.8 V2371.5 H2901.8 V2381.6 H2903.8 V2380 H2905.8 V2388.9 H2907.8 V2377.9 H2909.8 V2397.5 H2911.8 V2363.6 H2913.8 V2306.1 H2915.8 V2264.7 H2917.8 V2219.1 H2919.8 V2234.3 H2921.8 V2220.2 H2923.8 V2237.8 H2925.8 V2191.7 H2927.8 V2157.8 H2929.8 V2191.8 H2931.8 V2215.4 H2933.8 V2201.8 H2935.8 V2256.6 H2937.8 V2262.8 H2939.8 V2308.8 H2941.8 V2293.8 H2943.8 V2309.5 H2945.8 V2313.2 H2947.8 V2319.5 H2949.8 V2374.1 H2951.8 V2383.1 H2953.8 V2377.9 H2955.8 V2364.9 H2957.8 V2368.8 H2959.8 V2342.7 H2961.8 V2348.1 H2963.8 V2251.5 H2965.8 V2319.5 H2967.8 V2287.7 H2969.8 V2294.7 H2971.8 V2264.1 H2973.8 V2283.1 H2975.8 V2268.4 H2977.8 V2324.3 H2979.8 V2279.4 H2981.8 V2283 H2983.8 V2249.2 H2985.8 V2258.8 H2987.8 V2246.6 H2989.8 V2235.6 H2991.8 V2261.3 H2993.8 V2287.6 H2995.8 V2300.5 H2997.8 V2308.3 H2999.8 V2301.5 H3001.8 V2339.3 H3003.8 V2353.2 H3005.8 V2322.3 H3007.8 V2321.2 H3009.8 V2276.4 H3011.8 V2269.4 H3013.8 V2212.9 H3015.8 V2248.1 H3017.8 V2247.7 H3019.8 V2300 H3021.8 V2287.8 H3023.8 V2265.1 H3025.8 V2281.4 H3027.8 V2261 H3029.8 V2299.1 H3031.8 V2300.5 H3033.8 V2311.9 H3035.8 V2305.2 H3037.8 V2332.8 H3039.8 V2329.2 H3041.8 V2322.5 H3043.8 V2358.5 H3045.8 V2342.6 H3047.8 V2333.5 H3049.8 V2310.8 H3051.8 V2317.9 H3053.8 V2311.1 H3055.8 V2296.8 H3057.8 V2249.2 H3059.8 V2240.8 H3061.8 V2223.1 H3063.8 V2215.4 H3065.8 V2211.9 H3067.8 V2264.6 H3069.8 V2266.9 H3071.8 V2267.8 H3073.8 V2267.2 H3075.8 V2274.9 H3077.8 V2228.8 H3079.8 V2204.4 H3081.8 V2208.3 H3083.8 V2209.7 H3085.8 V2240.9 H3087.8 V2278 H3089.8 V2295.5 H3091.8 V2274.3 H3093.8 V2290.6 H3095.8 V2271.7 H3097.8 V2244.3 H3099.8 V2233.7 H3101.8 V2189.3 H3103.8 V2159.6 H3105.8 V2164.7 H3107.8 V2204.4 H3109.8 V2202.9 H3111.8 V2210.6 H3113.8 V2290.6 H3115.8 V2306.1 H3117.8 V2277.1 H3119.8 V2276 H3121.8 V2252.1 H3123.8 V2238.4 H3125.8 V2290 H3127.8 V2289.6 H3129.8 V2261.4 H3131.8 V2213.3 H3133.8 V2238.4 H3135.8 V2294.4 H3137.8 V2274 H3139.8 V2265.4 H3141.8 V2266.6 H3143.8 V2285.8 H3145.8 V2287 H3147.8 V2305.7 H3149.8 V2324.7 H3151.8 V2335.5 H3153.8 V2352.6 H3155.8 V2354.7 H3157.8 V2354.6 H3159.8 V2335.1 H3161.8 V2306.9 H3163.8 V2283.9 H3165.8 V2274 H3167.8 V2284.5 H3169.8 V2244.6 H3171.8 V2206.4 H3173.8 V2217.1 H3175.8 V2232.8 H3177.8 V2244.8 H3179.8 V2238.3 H3181.8 V2224.6 H3183.8 V2177.5 H3185.8 V2067 H3187.8 V2009.4 H3189.8 V2051.8 H3191.8 V2065.7 H3193.8 V2105.1 H3195.8 V2154.5 H3197.8 V2194.2 H3199.8 V2213.7 H3201.8 V2311.8 H3203.8 V2369.7 H3205.8 V2379.1 H3207.8 V2372.3 H3209.8 V2377.6 H3211.8 V2396.4 H3213.8 V2389.4 H3215.8 V2387.2 H3217.8 V2400.8 H3219.8 V2398 H3221.8 V2385.6 H3223.8 V2383.5 H3225.8 V2363.4 H3227.8 V2326.1 H3229.8 V2329.2 H3231.8 V2223.5 H3233.8 V2166.7 H3235.8 V2151.9 H3237.8 V2166.2 H3239.8 V2183 H3241.8 V2224 H3243.8 V2278 H3245.8 V2321.4 H3247.8 V2248.8 H3249.8 V2236.5 H3251.8 V2242.2 H3253.8 V2269.3 H3255.8 V2311.6 H3257.8 V2372.8 H3259.8 V2380.7 H3261.8 V2400.7 H3263.8 V2385.9 H3265.8 V2394.7 H3267.8 V2388.1 H3269.8 V2394.4 H3271.8 V2389.2 H3273.8 V2379.2 H3275.8 V2392 H3277.8 V2365.1 H3279.8 V2382.9 H3281.8 V2398.1 H3283.8 V2414.1 H3285.8 V2387.3 H3287.8 V2331.7 H3289.8 V2241.5 H3291.8 V2166.4 H3293.8 V2120.3 H3295.8 V2182.4 H3297.8 V2242.6 H3299.8 V2289.2 H3301.8 V2320.3 H3303 V2419.3 Z" fill="#63b534"/>
<rect x="2834" y="1999.3" width="10.5" height="42.5" fill="#6e6d72"/>
<rect x="2834" y="2074.8" width="10.5" height="42.5" fill="#6e6d72"/>
<rect x="2834" y="2150.3" width="10.5" height="42.5" fill="#6e6d72"/>
<rect x="2834" y="2225.8" width="10.5" height="42.5" fill="#6e6d72"/>
<rect x="2834" y="2301.3" width="10.5" height="42.5" fill="#6e6d72"/>
<rect x="2834" y="2376.8" width="10.5" height="36.5" fill="#6e6d72"/>
<rect x="2880.9" y="1999.3" width="10.5" height="42.5" fill="#e6a528"/>
<rect x="2880.9" y="2074.8" width="10.5" height="42.5" fill="#e6a528"/>
<rect x="2880.9" y="2150.3" width="10.5" height="42.5" fill="#e6a528"/>
<rect x="2880.9" y="2225.8" width="10.5" height="42.5" fill="#e6a528"/>
<rect x="2880.9" y="2301.3" width="10.5" height="42.5" fill="#e6a528"/>
<rect x="2880.9" y="2376.8" width="10.5" height="36.5" fill="#e6a528"/>
<rect x="3141.5" y="1999.3" width="10.5" height="42.5" fill="#e6a528"/>
<rect x="3141.5" y="2074.8" width="10.5" height="42.5" fill="#e6a528"/>
<rect x="3141.5" y="2150.3" width="10.5" height="42.5" fill="#e6a528"/>
<rect x="3141.5" y="2225.8" width="10.5" height="42.5" fill="#e6a528"/>
<rect x="3141.5" y="2301.3" width="10.5" height="42.5" fill="#e6a528"/>
<rect x="3141.5" y="2376.8" width="10.5" height="36.5" fill="#e6a528"/>
<rect x="3211.8" y="1999.3" width="10.5" height="42.5" fill="#6e6d72"/>
<rect x="3211.8" y="2074.8" width="10.5" height="42.5" fill="#6e6d72"/>
<rect x="3211.8" y="2150.3" width="10.5" height="42.5" fill="#6e6d72"/>
<rect x="3211.8" y="2225.8" width="10.5" height="42.5" fill="#6e6d72"/>
<rect x="3211.8" y="2301.3" width="10.5" height="42.5" fill="#6e6d72"/>
<rect x="3211.8" y="2376.8" width="10.5" height="36.5" fill="#6e6d72"/>
<rect x="2733.8" y="1955.5" width="569.2" height="463.8" fill="none" stroke="#231815" stroke-width="2.8"/>
<path d="M2733.8 2365.4h13 M2733.8 2311.1h13 M2733.8 2256.7h13 M2733.8 2202.4h13 M2733.8 2147.7h13 M2733.8 2093.8h13 M2733.8 2039.5h13 M2733.8 1984.8h13 M2821.7 2419.3v-13 M2910.4 2419.3v-13 M2998.3 2419.3v-13 M3086.2 2419.3v-13 M3174.5 2419.3v-13 M3262.4 2419.3v-13" stroke="#231815" stroke-width="2.8" fill="none"/>
<g font-size="56" text-anchor="end">
<text x="2717.3" y="2380">5</text>
<text x="2717.3" y="2325.7">10</text>
<text x="2717.3" y="2271.3">15</text>
<text x="2717.3" y="2217">20</text>
<text x="2717.3" y="2162.3">25</text>
<text x="2717.3" y="2108.4">30</text>
<text x="2717.3" y="2054.1">35</text>
<text x="2717.3" y="1999.4">40</text>
<text x="2717.3" y="2433.1">0</text>
</g>
<g font-size="56" text-anchor="middle">
<text x="2821.7" y="2478.7">10</text>
<text x="2910.4" y="2478.7">20</text>
<text x="2998.3" y="2478.7">30</text>
<text x="3086.2" y="2478.7">40</text>
<text x="3174.5" y="2478.7">50</text>
<text x="3262.4" y="2478.7">60</text>
</g>
<text x="3016.4" y="2552.1" font-size="54.5" text-anchor="middle">距离/μm</text>
<text transform="translate(2612.7 2187.4) rotate(-90)" font-size="54.5" text-anchor="middle">强度</text>
<text x="2856.8" y="1997.3" font-size="56" text-anchor="middle">a</text>
<text x="3010" y="1997.3" font-size="56" text-anchor="middle">b</text>
<text x="3180" y="1997.3" font-size="56" text-anchor="middle">c</text>
<text x="3265.9" y="2009" font-size="56" text-anchor="middle">O</text>
</g>
</svg>
</body>
</html>
